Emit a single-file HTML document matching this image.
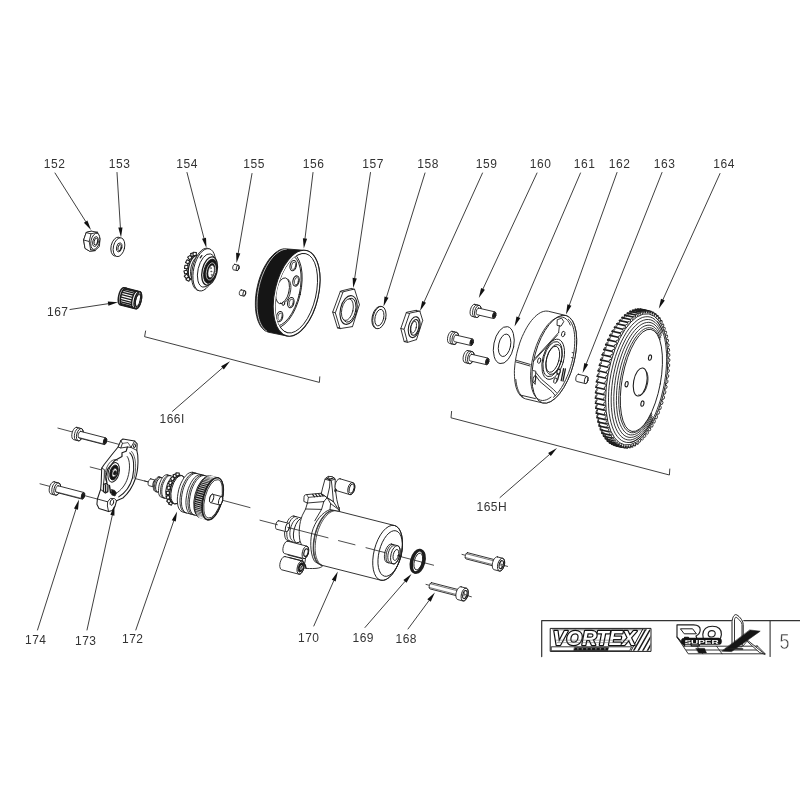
<!DOCTYPE html>
<html><head><meta charset="utf-8"><title>Exploded view 5</title>
<style>
html,body{margin:0;padding:0;background:#fff;}
body{width:800px;height:800px;overflow:hidden;font-family:"Liberation Sans",sans-serif;}
svg{display:block;filter:blur(0.3px);}
svg *{fill:none;stroke:#1e1e1e;stroke-width:0.9;stroke-linecap:round;stroke-linejoin:round;}
svg .w{fill:#fff;}
svg .k{fill:#151515;}
svg .f{fill:#111;stroke:none;}
svg .t text{font-family:"Liberation Sans",sans-serif;font-size:12px;fill:#333;stroke:none;letter-spacing:0.5px;}
svg .l line, svg .l path{stroke-width:0.85;}
svg .l .f{stroke:none;}
</style></head><body>
<svg width="800" height="800" viewBox="0 0 800 800">
<rect x="0" y="0" width="800" height="800" style="fill:#fff;stroke:none"/>
<g class="t">
<text x="43.8" y="167.6">152</text>
<text x="108.8" y="167.6">153</text>
<text x="176.3" y="167.6">154</text>
<text x="243.3" y="167.6">155</text>
<text x="302.8" y="167.6">156</text>
<text x="362.3" y="167.6">157</text>
<text x="417.3" y="167.6">158</text>
<text x="475.8" y="167.6">159</text>
<text x="529.8" y="167.6">160</text>
<text x="573.8" y="167.6">161</text>
<text x="608.8" y="167.6">162</text>
<text x="653.8" y="167.6">163</text>
<text x="713.3" y="167.6">164</text>
<text x="47" y="316">167</text>
<text x="159.5" y="423">166I</text>
<text x="476.5" y="510.5">165H</text>
<text x="25" y="644">174</text>
<text x="75" y="644.5">173</text>
<text x="122" y="643">172</text>
<text x="298" y="641.5">170</text>
<text x="352.5" y="641.5">169</text>
<text x="395.5" y="642.5">168</text>
</g>
<g class="p">
<g id="p152">
<path class="w" d="M91.5 231.2L86.2 232.6L83.6 240L85 248.4L89.6 251.2L95 250.6"/>
<path class="w" d="M91.5 231.2L97.5 232.2L100 238.5L99.4 246.5L95 250.6L89.6 251.2L85 248.4L83.6 240L86.2 232.6Z"/>
<path d="M86.2 232.6L91 233.8L97.5 232.2M91 233.8L89.2 241.5L90.6 249.6M83.6 240L89.2 241.5M90.6 249.6L95 250.6"/>
<ellipse class="w" cx="95.30" cy="241.30" rx="4.30" ry="8.30" transform="rotate(13 95.30 241.30)"/>
<ellipse class="w" cx="95.50" cy="241.50" rx="2.60" ry="5.00" transform="rotate(13 95.50 241.50)"/>
<ellipse cx="95.90" cy="241.60" rx="1.70" ry="3.60" transform="rotate(13 95.90 241.60)"/>
</g>
<g id="p153">
<ellipse class="w" cx="116.70" cy="246.60" rx="5.60" ry="9.60" transform="rotate(13 116.70 246.60)"/>
<ellipse class="w" cx="119.00" cy="247.20" rx="5.60" ry="9.60" transform="rotate(13 119.00 247.20)"/>
<ellipse class="w" cx="119.20" cy="247.40" rx="2.60" ry="4.60" transform="rotate(13 119.20 247.40)"/>
<ellipse cx="119.60" cy="247.60" rx="1.50" ry="3.20" transform="rotate(13 119.60 247.60)"/>
</g>
<g id="p167">
<path class="w" d="M124.0 287.7L139.8 291.7L139.8 291.7 L140.2 291.9 L140.5 292.2 L140.8 292.7 L141.1 293.2 L141.3 293.9 L141.5 294.7 L141.5 295.6 L141.6 296.6 L141.5 297.6 L141.4 298.7 L141.2 299.8 L141.0 300.9 L140.7 302.0 L140.4 303.1 L140.0 304.1 L139.6 305.1 L139.2 305.9 L138.7 306.7 L138.2 307.4 L137.7 307.9 L137.2 308.3 L136.7 308.6 L136.3 308.7 L135.8 308.7L120.0 304.7L120.0 304.7 L119.6 304.5 L119.3 304.2 L119.0 303.7 L118.7 303.2 L118.5 302.5 L118.3 301.7 L118.3 300.8 L118.2 299.8 L118.3 298.8 L118.4 297.7 L118.6 296.6 L118.8 295.5 L119.1 294.4 L119.4 293.3 L119.8 292.3 L120.2 291.3 L120.6 290.5 L121.1 289.7 L121.6 289.0 L122.1 288.5 L122.6 288.1 L123.1 287.8 L123.5 287.7 L124.0 287.7Z" style="stroke-width:1.5"/>
<path d="M122.0 305.2 L121.6 305.0 L121.3 304.7 L121.0 304.2 L120.7 303.7 L120.5 303.0 L120.3 302.2 L120.3 301.3 L120.2 300.3 L120.3 299.3 L120.4 298.2 L120.6 297.1 L120.8 296.0 L121.1 294.9 L121.4 293.8 L121.8 292.8 L122.2 291.8 L122.6 291.0 L123.1 290.2 L123.6 289.5 L124.1 289.0 L124.6 288.6 L125.1 288.3 L125.5 288.2 L126.0 288.2" style="stroke-width:1.7"/>
<path d="M133.4 308.1 L133.0 307.9 L132.7 307.6 L132.4 307.1 L132.1 306.6 L131.9 305.9 L131.7 305.1 L131.7 304.2 L131.6 303.2 L131.7 302.2 L131.8 301.1 L132.0 300.0 L132.2 298.9 L132.5 297.8 L132.8 296.7 L133.2 295.7 L133.6 294.7 L134.0 293.9 L134.5 293.1 L135.0 292.4 L135.5 291.9 L136.0 291.5 L136.5 291.2 L136.9 291.1 L137.4 291.1" style="stroke-width:1.4"/>
<line x1="121.9" y1="304.8" x2="132.3" y2="307.5" style="stroke-width:1.35"/>
<line x1="121.2" y1="303.6" x2="131.6" y2="306.3" style="stroke-width:1.35"/>
<line x1="120.9" y1="301.9" x2="131.3" y2="304.5" style="stroke-width:1.35"/>
<line x1="120.9" y1="299.6" x2="131.3" y2="302.3" style="stroke-width:1.35"/>
<line x1="121.2" y1="297.1" x2="131.6" y2="299.8" style="stroke-width:1.35"/>
<line x1="121.8" y1="294.6" x2="132.2" y2="297.3" style="stroke-width:1.35"/>
<line x1="122.6" y1="292.3" x2="133.0" y2="295.0" style="stroke-width:1.35"/>
<line x1="123.6" y1="290.4" x2="134.0" y2="293.1" style="stroke-width:1.35"/>
<line x1="124.8" y1="289.1" x2="135.2" y2="291.7" style="stroke-width:1.35"/>
<line x1="125.7" y1="288.4" x2="136.1" y2="291.1" style="stroke-width:1.35"/>
<ellipse class="w" cx="137.80" cy="300.20" rx="3.30" ry="8.70" transform="rotate(13 137.80 300.20)" style="stroke-width:1.4"/>
<ellipse cx="137.90" cy="300.20" rx="2.18" ry="6.44" transform="rotate(13 137.90 300.20)" style="stroke-width:1.1"/>
<line x1="140.1" y1="295.0" x2="141.0" y2="293.4" style="stroke-width:0.9"/>
<line x1="140.3" y1="298.0" x2="141.5" y2="297.3" style="stroke-width:0.9"/>
<line x1="139.6" y1="301.8" x2="140.6" y2="302.4" style="stroke-width:0.9"/>
<line x1="138.3" y1="305.0" x2="138.7" y2="306.6" style="stroke-width:0.9"/>
<line x1="136.7" y1="306.5" x2="136.5" y2="308.5" style="stroke-width:0.9"/>
<line x1="135.6" y1="305.7" x2="134.7" y2="307.4" style="stroke-width:0.9"/>
<line x1="135.2" y1="302.9" x2="134.1" y2="303.7" style="stroke-width:0.9"/>
<line x1="135.8" y1="299.2" x2="134.8" y2="298.8" style="stroke-width:0.9"/>
<line x1="137.1" y1="295.8" x2="136.6" y2="294.3" style="stroke-width:0.9"/>
<line x1="138.6" y1="294.0" x2="138.8" y2="292.0" style="stroke-width:0.9"/>
<path d="M135.8 305.0 L135.4 304.5 L135.3 303.6 L135.2 302.4 L135.3 301.1 L135.6 299.7 L136.0 298.3 L136.5 297.0 L137.0 296.0 L137.6 295.3 L138.1 295.0" style="stroke-width:1.1"/>
</g>
<g id="p154">
<ellipse class="w" cx="193.20" cy="267.20" rx="6.00" ry="12.80" transform="rotate(13 193.20 267.20)"/>
<rect class="w" x="186.6" y="277.6" width="3.2" height="3.2" transform="rotate(-62 188.1 279.2)" style="stroke-width:1.1"/>
<rect class="w" x="184.9" y="274.8" width="3.2" height="3.2" transform="rotate(-39 186.4 276.4)" style="stroke-width:1.1"/>
<rect class="w" x="184.3" y="270.5" width="3.2" height="3.2" transform="rotate(-16 185.8 272.1)" style="stroke-width:1.1"/>
<rect class="w" x="184.7" y="265.4" width="3.2" height="3.2" transform="rotate(7 186.2 267.0)" style="stroke-width:1.1"/>
<rect class="w" x="186.1" y="260.2" width="3.2" height="3.2" transform="rotate(30 187.6 261.8)" style="stroke-width:1.1"/>
<rect class="w" x="188.3" y="255.9" width="3.2" height="3.2" transform="rotate(53 189.8 257.5)" style="stroke-width:1.1"/>
<rect class="w" x="191.0" y="253.1" width="3.2" height="3.2" transform="rotate(76 192.5 254.7)" style="stroke-width:1.1"/>
<rect class="w" x="193.2" y="252.3" width="3.2" height="3.2" transform="rotate(95 194.7 253.9)" style="stroke-width:1.1"/>
<path d="M191.3 279.5 L190.4 278.9 L189.6 277.9 L189.0 276.5 L188.5 274.8 L188.3 272.9 L188.3 270.8 L188.5 268.5 L188.9 266.3 L189.6 264.1 L190.3 262.0 L191.3 260.1 L192.3 258.5 L193.4 257.2 L194.6 256.2 L195.8 255.6 L196.9 255.5" style="stroke-width:1.2"/>
<ellipse class="w" cx="197.00" cy="268.20" rx="6.00" ry="12.60" transform="rotate(13 197.00 268.20)"/>
<ellipse class="w" cx="203.00" cy="269.40" rx="10.60" ry="21.60" transform="rotate(13 203.00 269.40)"/>
<ellipse class="w" cx="204.30" cy="269.80" rx="10.60" ry="21.60" transform="rotate(13 204.30 269.80)"/>
<ellipse cx="206.60" cy="270.50" rx="8.60" ry="17.00" transform="rotate(13 206.60 270.50)"/>
<ellipse class="w" cx="209.60" cy="271.00" rx="7.40" ry="14.40" transform="rotate(13 209.60 271.00)" style="stroke-width:1.3"/>
<ellipse class="k" cx="210.30" cy="271.20" rx="6.30" ry="12.40" transform="rotate(13 210.30 271.20)"/>
<ellipse cx="210.90" cy="271.40" rx="4.40" ry="8.80" transform="rotate(13 210.90 271.40)" style="stroke:#fff;stroke-width:0.6"/>
<ellipse class="w" cx="211.20" cy="271.50" rx="3.00" ry="6.40" transform="rotate(13 211.20 271.50)" style="stroke-width:0.5"/>
<circle cx="210.8" cy="268.1" r="0.6" style="fill:#fff;stroke:#222;stroke-width:0.5"/>
<circle cx="211.2" cy="271.5" r="0.6" style="fill:#fff;stroke:#222;stroke-width:0.5"/>
<circle cx="211.6" cy="274.9" r="0.6" style="fill:#fff;stroke:#222;stroke-width:0.5"/>
<path d="M200.2 257.8L201.8 255.6" style="stroke-width:1.3"/>
</g>
<g id="p155">
<path class="w" d="M234.7 264.4L238.3 265.2L238.3 265.2 L238.8 265.5 L239.0 266.2 L239.1 267.1 L239.0 268.2 L238.6 269.2 L238.2 270.0 L237.6 270.5 L237.1 270.6L233.5 269.8L233.5 269.8 L233.0 269.5 L232.8 268.8 L232.7 267.9 L232.8 266.8 L233.2 265.8 L233.6 265.0 L234.2 264.5 L234.7 264.4Z"/>
<ellipse cx="237.70" cy="267.90" rx="1.30" ry="2.80" transform="rotate(13 237.70 267.90)"/>
<path class="w" d="M241.3 289.9L244.9 290.7L244.9 290.7 L245.4 291.0 L245.6 291.7 L245.7 292.6 L245.6 293.7 L245.2 294.7 L244.8 295.5 L244.2 296.0 L243.7 296.1L240.1 295.3L240.1 295.3 L239.6 295.0 L239.4 294.3 L239.3 293.4 L239.4 292.3 L239.8 291.3 L240.2 290.5 L240.8 290.0 L241.3 289.9Z"/>
<ellipse cx="244.30" cy="293.40" rx="1.30" ry="2.80" transform="rotate(13 244.30 293.40)"/>
</g>
<g id="p156">
<path class="k" d="M268.6 332.2 L267.0 331.7 L265.5 331.0 L264.0 329.9 L262.7 328.7 L261.4 327.2 L260.2 325.5 L259.2 323.6 L258.3 321.5 L257.4 319.1 L256.8 316.6 L256.2 314.0 L255.8 311.2 L255.5 308.3 L255.4 305.2 L255.4 302.1 L255.5 298.9 L255.8 295.7 L256.2 292.4 L256.8 289.1 L257.5 285.8 L258.3 282.6 L259.2 279.4 L260.3 276.2 L261.5 273.2 L262.7 270.3 L264.1 267.4 L265.6 264.8 L267.1 262.3 L268.7 259.9 L270.3 257.8 L272.1 255.9 L273.8 254.1 L275.6 252.6 L277.4 251.4 L279.1 250.3 L280.9 249.5 L282.7 249.0 L284.4 248.8 L286.2 248.7 L287.8 249.0L306.5 250.5L306.5 250.5 L308.1 251.0 L309.7 251.8 L311.1 252.8 L312.5 254.1 L313.8 255.6 L315.0 257.4 L316.1 259.4 L317.1 261.6 L317.9 263.9 L318.6 266.5 L319.2 269.2 L319.6 272.1 L319.9 275.1 L320.0 278.2 L320.0 281.4 L319.8 284.7 L319.6 288.0 L319.1 291.4 L318.5 294.7 L317.8 298.1 L317.0 301.4 L316.0 304.7 L315.0 307.9 L313.8 311.1 L312.5 314.1 L311.1 316.9 L309.6 319.7 L308.0 322.3 L306.4 324.6 L304.7 326.8 L302.9 328.8 L301.1 330.6 L299.3 332.2 L297.5 333.5 L295.6 334.5 L293.8 335.3 L292.0 335.8 L290.2 336.1 L288.4 336.1 L286.7 335.9Z"/>
<path d="M266.7 331.1 L265.5 330.2 L264.2 329.1 L263.1 327.7 L262.0 326.2 L261.1 324.5 L260.2 322.7 L259.4 320.7 L258.7 318.5 L258.2 316.2 L257.7 313.8 L257.4 311.2 L257.1 308.6 L257.0 305.9 L257.0 303.1 L257.1 300.2 L257.3 297.3 L257.6 294.4 L258.1 291.4 L258.6 288.4 L259.3 285.5 L260.0 282.6 L260.9 279.7 L261.8 276.9 L262.9 274.1 L264.0 271.5 L265.2 268.9 L266.5 266.4 L267.8 264.1 L269.2 261.9 L270.7 259.8 L272.2 257.9 L273.7 256.2 L275.3 254.7 L276.9 253.3 L278.5 252.1 L280.1 251.1 L281.7 250.3 L283.3 249.7 L284.9 249.3 L286.4 249.1" style="stroke:#fff;stroke-width:0.7"/>
<ellipse class="w" cx="296.60" cy="293.20" rx="21.80" ry="43.80" transform="rotate(13 296.60 293.20)" style="stroke-width:1.1"/>
<ellipse class="w" cx="296.60" cy="293.20" rx="19.40" ry="40.60" transform="rotate(13 296.60 293.20)" style="stroke-width:0.9"/>
<clipPath id="c156"><ellipse cx="296.6" cy="293.2" rx="19.400000000000002" ry="40.599999999999994" transform="rotate(13 296.6 293.2)"/></clipPath>
<g clip-path="url(#c156)">
<path class="k" d="M287.5 332.8 L286.0 332.3 L284.6 331.6 L283.3 330.6 L282.1 329.5 L280.9 328.1 L279.9 326.5 L278.9 324.6 L278.1 322.6 L277.4 320.4 L276.8 318.1 L276.3 315.6 L275.9 312.9 L275.7 310.1 L275.6 307.3 L275.6 304.3 L275.8 301.3 L276.1 298.2 L276.5 295.1 L277.0 292.0 L277.7 288.8 L278.5 285.7 L279.4 282.7 L280.4 279.7 L281.4 276.8 L282.6 274.0 L283.9 271.4 L285.3 268.8 L286.7 266.4 L288.2 264.2 L289.7 262.1 L291.3 260.3 L292.9 258.6 L294.5 257.2 L296.2 256.0 L297.8 255.0 L299.4 254.2 L301.1 253.7 L302.7 253.4 L304.2 253.4 L305.7 253.6L290.8 252.4 L289.4 252.2 L287.9 252.2 L286.4 252.5 L284.8 253.0 L283.2 253.7 L281.6 254.6 L280.1 255.8 L278.5 257.2 L277.0 258.7 L275.5 260.5 L274.0 262.5 L272.6 264.6 L271.2 266.9 L269.9 269.3 L268.7 271.9 L267.6 274.5 L266.5 277.3 L265.6 280.2 L264.7 283.1 L264.0 286.0 L263.3 289.0 L262.8 292.0 L262.4 295.0 L262.2 297.9 L262.0 300.8 L262.0 303.6 L262.1 306.4 L262.3 309.0 L262.7 311.6 L263.1 314.0 L263.7 316.2 L264.4 318.3 L265.2 320.2 L266.1 322.0 L267.1 323.5 L268.2 324.9 L269.4 326.0 L270.6 326.9 L272.0 327.6 L273.4 328.0Z"/>
<ellipse class="w" cx="282.10" cy="290.20" rx="18.60" ry="38.80" transform="rotate(13 282.10 290.20)"/>
<ellipse cx="282.70" cy="290.40" rx="17.00" ry="36.40" transform="rotate(13 282.70 290.40)"/>
<ellipse class="w" cx="282.60" cy="290.80" rx="6.40" ry="13.20" transform="rotate(13 282.60 290.80)"/>
<path d="M288.0 279.4 L289.0 280.3 L289.8 281.6 L290.4 283.3 L290.8 285.3 L290.9 287.5 L290.7 289.9 L290.3 292.3 L289.7 294.7 L288.8 296.9 L287.8 299.0 L286.6 300.7 L285.3 302.1 L284.0 303.0 L282.7 303.5 L281.5 303.5 L280.4 303.0"/>
<ellipse class="w" cx="293.20" cy="265.60" rx="3.10" ry="5.20" transform="rotate(13 293.20 265.60)" style="stroke-width:1.1"/>
<ellipse cx="293.60" cy="265.80" rx="2.00" ry="3.80" transform="rotate(13 293.60 265.80)" style="stroke-width:0.7"/>
<ellipse class="w" cx="296.00" cy="281.00" rx="3.10" ry="5.20" transform="rotate(13 296.00 281.00)" style="stroke-width:1.1"/>
<ellipse cx="296.40" cy="281.20" rx="2.00" ry="3.80" transform="rotate(13 296.40 281.20)" style="stroke-width:0.7"/>
<ellipse class="w" cx="290.80" cy="302.60" rx="3.10" ry="5.20" transform="rotate(13 290.80 302.60)" style="stroke-width:1.1"/>
<ellipse cx="291.20" cy="302.80" rx="2.00" ry="3.80" transform="rotate(13 291.20 302.80)" style="stroke-width:0.7"/>
<ellipse class="w" cx="279.60" cy="316.60" rx="3.10" ry="5.20" transform="rotate(13 279.60 316.60)" style="stroke-width:1.1"/>
<ellipse cx="280.00" cy="316.80" rx="2.00" ry="3.80" transform="rotate(13 280.00 316.80)" style="stroke-width:0.7"/>
<ellipse class="w" cx="283.40" cy="303.60" rx="1.20" ry="1.90" transform="rotate(13 283.40 303.60)"/>
</g>
</g>
<g id="p157">
<path class="w" d="M352.0 288.7 L356.8 303.9 L349.9 325.9 L337.5 327.9 L332.7 312.1 L340.3 291.5Z"/>
<line x1="354.6" y1="289.4" x2="352.0" y2="288.7"/>
<line x1="359.4" y1="304.6" x2="356.8" y2="303.9"/>
<line x1="352.5" y1="326.6" x2="349.9" y2="325.9"/>
<line x1="340.1" y1="328.6" x2="337.5" y2="327.9"/>
<line x1="335.3" y1="312.8" x2="332.7" y2="312.1"/>
<line x1="342.9" y1="292.2" x2="340.3" y2="291.5"/>
<path class="w" d="M354.6 289.4 L359.4 304.6 L352.5 326.6 L340.1 328.6 L335.3 312.8 L342.9 292.2Z"/>
<ellipse class="w" cx="348.60" cy="310.00" rx="8.20" ry="14.60" transform="rotate(13 348.60 310.00)" style="stroke-width:1.1"/>
<ellipse class="w" cx="349.20" cy="310.20" rx="6.40" ry="12.20" transform="rotate(13 349.20 310.20)" style="stroke-width:0.9"/>
<ellipse class="w" cx="347.40" cy="309.70" rx="5.60" ry="11.00" transform="rotate(13 347.40 309.70)" style="stroke-width:0.8"/>
</g>
<g id="p158">
<ellipse class="w" cx="378.60" cy="317.40" rx="6.40" ry="11.40" transform="rotate(13 378.60 317.40)"/>
<ellipse class="w" cx="379.40" cy="317.60" rx="6.40" ry="11.40" transform="rotate(13 379.40 317.60)"/>
<ellipse class="w" cx="379.40" cy="317.60" rx="4.30" ry="8.40" transform="rotate(13 379.40 317.60)"/>
</g>
<g id="p159">
<path class="w" d="M416.6 310.6 L419.4 319.6 L413.2 338.8 L404.2 341.6 L400.8 328.5 L406.3 312.7Z"/>
<line x1="419.9" y1="311.4" x2="416.6" y2="310.6"/>
<line x1="422.7" y1="320.4" x2="419.4" y2="319.6"/>
<line x1="416.5" y1="339.6" x2="413.2" y2="338.8"/>
<line x1="407.5" y1="342.4" x2="404.2" y2="341.6"/>
<line x1="404.1" y1="329.3" x2="400.8" y2="328.5"/>
<line x1="409.6" y1="313.5" x2="406.3" y2="312.7"/>
<path class="w" d="M419.9 311.4 L422.7 320.4 L416.5 339.6 L407.5 342.4 L404.1 329.3 L409.6 313.5Z"/>
<ellipse class="w" cx="414.20" cy="327.20" rx="5.60" ry="10.60" transform="rotate(13 414.20 327.20)" style="stroke-width:1.1"/>
<ellipse class="w" cx="414.70" cy="327.40" rx="4.00" ry="8.00" transform="rotate(13 414.70 327.40)" style="stroke-width:1.1"/>
<ellipse class="w" cx="413.70" cy="327.10" rx="2.60" ry="6.00" transform="rotate(13 413.70 327.10)" style="stroke-width:0.8"/>
</g>
<g id="p160">
<path class="w" d="M474.8 304.4L479.3 305.4L479.3 305.4 L480.1 305.9 L480.8 307.0 L481.1 308.4 L481.2 310.2 L480.9 312.1 L480.3 314.0 L479.5 315.5 L478.5 316.7 L477.5 317.4 L476.5 317.5L472.0 316.4L472.0 316.4 L471.1 315.9 L470.5 314.9 L470.1 313.4 L470.1 311.6 L470.4 309.7 L471.0 307.9 L471.8 306.3 L472.8 305.1 L473.8 304.4 L474.8 304.4Z"/>
<ellipse cx="477.88" cy="311.43" rx="3.10" ry="6.20" transform="rotate(13 477.88 311.43)"/>
<path d="M474.5 317.0 L473.6 316.5 L473.0 315.4 L472.6 314.0 L472.6 312.2 L472.8 310.3 L473.4 308.4 L474.2 306.9 L475.2 305.7 L476.3 305.0 L477.3 304.9"/>
<path class="w" d="M478.6 308.1L495.0 311.9L495.0 311.9 L495.5 312.3 L495.8 313.1 L495.9 314.3 L495.7 315.6 L495.3 316.8 L494.8 317.8 L494.1 318.4 L493.5 318.5L477.1 314.7L477.1 314.7 L476.6 314.4 L476.3 313.5 L476.2 312.4 L476.4 311.1 L476.8 309.8 L477.4 308.8 L478.0 308.2 L478.6 308.1Z"/>
<ellipse cx="494.25" cy="315.21" rx="1.53" ry="3.40" transform="rotate(13 494.25 315.21)"/>
<ellipse class="k" cx="494.15" cy="315.21" rx="1.16" ry="2.55" transform="rotate(13 494.15 315.21)"/>
<path class="w" d="M452.2 331.4L456.7 332.4L456.7 332.4 L457.5 332.9 L458.2 334.0 L458.5 335.4 L458.6 337.2 L458.3 339.1 L457.7 341.0 L456.9 342.5 L455.9 343.7 L454.9 344.4 L453.9 344.5L449.4 343.4L449.4 343.4 L448.5 342.9 L447.9 341.9 L447.5 340.4 L447.5 338.6 L447.8 336.7 L448.4 334.9 L449.2 333.3 L450.2 332.1 L451.2 331.4 L452.2 331.4Z"/>
<ellipse cx="455.28" cy="338.43" rx="3.10" ry="6.20" transform="rotate(13 455.28 338.43)"/>
<path d="M451.9 344.0 L451.0 343.5 L450.4 342.4 L450.0 341.0 L450.0 339.2 L450.2 337.3 L450.8 335.4 L451.6 333.9 L452.6 332.7 L453.7 332.0 L454.7 331.9"/>
<path class="w" d="M456.0 335.1L472.4 338.9L472.4 338.9 L472.9 339.3 L473.2 340.1 L473.3 341.3 L473.1 342.6 L472.7 343.8 L472.2 344.8 L471.5 345.4 L470.9 345.5L454.5 341.7L454.5 341.7 L454.0 341.4 L453.7 340.5 L453.6 339.4 L453.8 338.1 L454.2 336.8 L454.8 335.8 L455.4 335.2 L456.0 335.1Z"/>
<ellipse cx="471.65" cy="342.21" rx="1.53" ry="3.40" transform="rotate(13 471.65 342.21)"/>
<ellipse class="k" cx="471.55" cy="342.21" rx="1.16" ry="2.55" transform="rotate(13 471.55 342.21)"/>
<path class="w" d="M467.8 350.6L472.3 351.6L472.3 351.6 L473.1 352.1 L473.8 353.2 L474.1 354.6 L474.2 356.4 L473.9 358.3 L473.3 360.2 L472.5 361.7 L471.5 362.9 L470.5 363.6 L469.5 363.7L465.0 362.6L465.0 362.6 L464.1 362.1 L463.5 361.1 L463.1 359.6 L463.1 357.8 L463.4 355.9 L464.0 354.1 L464.8 352.5 L465.8 351.3 L466.8 350.6 L467.8 350.6Z"/>
<ellipse cx="470.88" cy="357.63" rx="3.10" ry="6.20" transform="rotate(13 470.88 357.63)"/>
<path d="M467.5 363.2 L466.6 362.7 L466.0 361.6 L465.6 360.2 L465.6 358.4 L465.8 356.5 L466.4 354.6 L467.2 353.1 L468.2 351.9 L469.3 351.2 L470.3 351.1"/>
<path class="w" d="M471.6 354.3L488.0 358.1L488.0 358.1 L488.5 358.5 L488.8 359.3 L488.9 360.5 L488.7 361.8 L488.3 363.0 L487.8 364.0 L487.1 364.6 L486.5 364.7L470.1 360.9L470.1 360.9 L469.6 360.6 L469.3 359.7 L469.2 358.6 L469.4 357.3 L469.8 356.0 L470.4 355.0 L471.0 354.4 L471.6 354.3Z"/>
<ellipse cx="487.25" cy="361.41" rx="1.53" ry="3.40" transform="rotate(13 487.25 361.41)"/>
<ellipse class="k" cx="487.15" cy="361.41" rx="1.16" ry="2.55" transform="rotate(13 487.15 361.41)"/>
</g>
<g id="p161">
<ellipse class="w" cx="503.80" cy="345.10" rx="10.00" ry="18.80" transform="rotate(11.5 503.80 345.10)"/>
<ellipse class="w" cx="504.60" cy="345.30" rx="6.00" ry="11.40" transform="rotate(11.5 504.60 345.30)"/>
</g>
<g id="p162">
<path class="w" d="M525.1 398.7 L523.6 398.1 L522.3 397.3 L521.0 396.3 L519.8 394.9 L518.7 393.4 L517.7 391.6 L516.8 389.5 L516.1 387.3 L515.5 384.9 L515.0 382.2 L514.7 379.5 L514.5 376.5 L514.4 373.4 L514.4 370.3 L514.7 367.0 L515.0 363.6 L515.5 360.2 L516.1 356.8 L516.8 353.3 L517.7 349.9 L518.7 346.5 L519.7 343.1 L520.9 339.8 L522.2 336.6 L523.6 333.6 L525.1 330.6 L526.6 327.8 L528.2 325.2 L529.9 322.7 L531.5 320.5 L533.3 318.5 L535.0 316.7 L536.8 315.1 L538.5 313.8 L540.3 312.7 L542.0 311.9 L543.7 311.4 L545.4 311.1 L547.0 311.1 L548.5 311.3L566.0 315.5L566.0 315.5 L567.5 316.1 L568.8 316.9 L570.1 317.9 L571.3 319.3 L572.4 320.8 L573.4 322.6 L574.3 324.7 L575.0 326.9 L575.6 329.3 L576.1 332.0 L576.4 334.7 L576.6 337.7 L576.7 340.8 L576.7 343.9 L576.4 347.2 L576.1 350.6 L575.6 354.0 L575.0 357.4 L574.3 360.9 L573.4 364.3 L572.4 367.7 L571.4 371.1 L570.2 374.4 L568.9 377.6 L567.5 380.6 L566.0 383.6 L564.5 386.4 L562.9 389.0 L561.2 391.5 L559.6 393.7 L557.8 395.7 L556.1 397.5 L554.3 399.1 L552.6 400.4 L550.8 401.5 L549.1 402.3 L547.4 402.8 L545.7 403.1 L544.1 403.1 L542.6 402.9Z"/>
<path d="M516.4 360.4L530.2 364.4M516.2 362L530 366"/>
<path d="M521 395.2L535.4 398.6"/>
<path d="M523.2 397.4 L522.0 396.4 L521.0 395.2 L520.0 393.9 L519.1 392.3 L518.3 390.5 L517.6 388.6 L517.0 386.5 L516.5 384.3 L516.1 381.9 L515.8 379.4"/>
<ellipse class="w" cx="554.30" cy="359.20" rx="19.80" ry="45.20" transform="rotate(15 554.30 359.20)"/>
<path d="M551.0 397.1 L548.8 398.6 L546.7 399.7 L544.5 400.3 L542.5 400.5 L540.6 400.2 L538.8 399.5 L537.1 398.3 L535.6 396.7 L534.2 394.7 L533.1 392.3 L532.1 389.5 L531.4 386.3 L530.9 382.9 L530.6 379.2 L530.6 375.3 L530.8 371.2 L531.2 367.0 L531.8 362.6 L532.7 358.3 L533.7 353.9 L535.0 349.6 L536.4 345.4 L538.1 341.3 L539.8 337.4 L541.7 333.8 L543.7 330.4 L545.8 327.3 L547.9 324.6 L550.1 322.3 L552.4 320.3 L554.6 318.8 L556.7 317.7 L558.9 317.1 L560.9 316.9 L562.8 317.2 L564.6 317.9 L566.3 319.1 L567.8 320.7 L569.2 322.7 L570.3 325.1"/>
<path d="M568.4 319.3 L569.5 320.4 L570.6 321.7 L571.5 323.3 L572.4 325.1 L573.1 327.2 L573.7 329.4 L574.2 331.9 L574.5 334.5 L574.7 337.3 L574.8 340.3 L574.7 343.4 L574.5 346.5 L574.2 349.8 L573.8 353.1 L573.2 356.5 L572.5 359.9 L571.6 363.3 L570.7 366.6 L569.6 369.9 L568.5 373.2 L567.2 376.3 L565.9 379.3 L564.5 382.2 L563.0 385.0 L561.5 387.5 L559.9 389.9 L558.3 392.1 L556.7 394.1 L555.1 395.8 L553.4 397.3"/>
<ellipse class="w" cx="553.20" cy="359.30" rx="10.40" ry="20.60" transform="rotate(15 553.20 359.30)"/>
<ellipse cx="552.60" cy="359.10" rx="8.80" ry="18.00" transform="rotate(15 552.60 359.10)"/>
<ellipse cx="554.00" cy="359.50" rx="7.40" ry="15.40" transform="rotate(15 554.00 359.50)"/>
<ellipse cx="552.80" cy="359.30" rx="6.20" ry="13.40" transform="rotate(15 552.80 359.30)"/>
<path class="w" d="M557.6 319.6L561.6 318.2L563.8 321.6L561 326.2L557.4 325.4Z"/>
<path d="M559.4 325.8L558.6 332.6M558.6 332.6L535.4 358M534.2 360.4L557.6 335"/>
<path d="M536 372.6L541.6 379.4L553.6 389.6L556.4 392.6M535.6 375.6L540 381.6L552 391.6L555.2 395.6"/>
<path d="M533.2 370.6L535.8 371.2L535.2 384.4L533 382"/>
<ellipse class="w" cx="563.20" cy="334.00" rx="1.60" ry="2.80" transform="rotate(15 563.20 334.00)"/>
<ellipse class="w" cx="539.20" cy="360.60" rx="1.50" ry="2.80" transform="rotate(15 539.20 360.60)"/>
<ellipse class="w" cx="555.40" cy="380.60" rx="1.60" ry="2.80" transform="rotate(15 555.40 380.60)"/>
<ellipse cx="534.40" cy="379.00" rx="1.30" ry="3.40" transform="rotate(15 534.40 379.00)"/>
<path d="M563.6 368.6L561.2 380.6M565.4 369L563 381M559.6 372.4L557.6 379.8" style="stroke-width:1.3"/>
<ellipse class="w" cx="558.60" cy="371.60" rx="1.60" ry="2.60" transform="rotate(15 558.60 371.60)" style="stroke-width:1.2"/>
<path d="M572.2 352.6L573.6 353M571.6 357.6L573 358"/>
</g>
<g id="p163">
<path class="w" d="M578.4 374.3L587.0 376.4L587.0 376.4 L587.6 376.8 L588.0 377.7 L588.0 379.0 L587.9 380.4 L587.4 381.7 L586.8 382.8 L586.1 383.5 L585.4 383.6L576.8 381.5L576.8 381.5 L576.2 381.1 L575.8 380.2 L575.8 378.9 L575.9 377.5 L576.4 376.2 L577.0 375.1 L577.7 374.4 L578.4 374.3Z"/>
<ellipse cx="586.20" cy="380.00" rx="1.70" ry="3.70" transform="rotate(13 586.20 380.00)"/>
</g>
<g id="p164">
<path class="w" d="M657.5 382.9 L658.7 384.4 L658.3 386.3 L656.7 387.2 L656.4 388.2 L657.5 389.8 L657.0 391.8 L655.4 392.4 L655.2 393.5 L656.2 395.2 L655.6 397.1 L654.0 397.6 L653.7 398.6 L654.6 400.5 L654.0 402.3 L652.5 402.6 L652.1 403.6 L652.9 405.6 L652.3 407.4 L650.7 407.5 L650.4 408.4 L651.1 410.5 L650.4 412.2 L648.9 412.2 L648.5 413.1 L649.1 415.2 L648.3 416.9 L646.8 416.6 L646.4 417.5 L646.9 419.7 L646.1 421.3 L644.7 420.8 L644.3 421.6 L644.7 423.9 L643.8 425.4 L642.5 424.7 L642.0 425.5 L642.3 427.8 L641.4 429.1 L640.2 428.3 L639.7 429.0 L639.9 431.4 L638.9 432.6 L637.8 431.6 L637.3 432.2 L637.3 434.6 L636.4 435.7 L635.3 434.6 L634.8 435.1 L634.7 437.5 L633.8 438.4 L632.8 437.1 L632.3 437.6 L632.1 439.9 L631.2 440.7 L630.3 439.3 L629.8 439.7 L629.5 442.0 L628.5 442.6 L627.7 441.1 L627.2 441.4 L626.8 443.6 L625.8 444.1 L625.2 442.4 L624.7 442.7 L624.2 444.8 L623.2 445.2 L622.7 443.4 L622.2 443.5 L621.5 445.6 L620.6 445.8 L620.2 443.9 L619.7 443.9 L619.0 446.0 L618.0 446.0 L617.8 444.0 L617.3 443.9 L616.4 445.8 L615.6 445.7 L615.4 443.6 L615.0 443.5 L614.0 445.3 L613.2 445.0 L613.1 442.8 L612.7 442.6 L611.7 444.3 L610.8 443.8 L611.0 441.6 L610.5 441.4 L609.4 442.9 L608.7 442.3 L608.9 440.0 L608.5 439.7 L607.3 441.0 L606.6 440.3 L607.0 438.0 L606.6 437.6 L605.3 438.8 L604.7 437.9 L605.2 435.6 L604.8 435.1 L603.5 436.1 L602.9 435.1 L603.5 432.8 L603.2 432.2 L601.9 433.1 L601.3 431.9 L602.0 429.6 L601.8 429.0 L600.4 429.7 L599.9 428.4 L600.7 426.2 L600.5 425.4 L599.1 425.9 L598.6 424.5 L599.6 422.4 L599.4 421.6 L597.9 421.9 L597.6 420.4 L598.6 418.3 L598.5 417.4 L597.0 417.5 L596.7 415.9 L597.9 413.9 L597.8 413.0 L596.3 412.9 L596.1 411.2 L597.3 409.3 L597.2 408.4 L595.8 408.1 L595.6 406.3 L597.0 404.5 L596.9 403.5 L595.5 403.1 L595.4 401.2 L596.8 399.5 L596.8 398.5 L595.4 397.9 L595.4 396.0 L596.9 394.4 L596.9 393.4 L595.5 392.6 L595.6 390.6 L597.1 389.2 L597.2 388.1 L595.9 387.1 L596.0 385.2 L597.6 383.9 L597.7 382.8 L596.4 381.7 L596.7 379.7 L598.2 378.5 L598.4 377.5 L597.2 376.1 L597.5 374.2 L599.1 373.2 L599.3 372.1 L598.1 370.6 L598.5 368.7 L600.1 367.8 L600.4 366.8 L599.3 365.2 L599.8 363.2 L601.4 362.6 L601.6 361.5 L600.6 359.8 L601.2 357.9 L602.8 357.4 L603.1 356.4 L602.2 354.5 L602.8 352.7 L604.3 352.4 L604.7 351.4 L603.9 349.4 L604.5 347.6 L606.1 347.5 L606.4 346.6 L605.7 344.5 L606.4 342.8 L607.9 342.8 L608.3 341.9 L607.7 339.8 L608.5 338.1 L610.0 338.4 L610.4 337.5 L609.9 335.3 L610.7 333.7 L612.1 334.2 L612.5 333.4 L612.1 331.1 L613.0 329.6 L614.3 330.3 L614.8 329.5 L614.5 327.2 L615.4 325.9 L616.6 326.7 L617.1 326.0 L616.9 323.6 L617.9 322.4 L619.0 323.4 L619.5 322.8 L619.5 320.4 L620.4 319.3 L621.5 320.4 L622.0 319.9 L622.1 317.5 L623.0 316.6 L624.0 317.9 L624.5 317.4 L624.7 315.1 L625.6 314.3 L626.5 315.7 L627.0 315.3 L627.3 313.0 L628.3 312.4 L629.1 313.9 L629.6 313.6 L630.0 311.4 L631.0 310.9 L631.6 312.6 L632.1 312.3 L632.6 310.2 L633.6 309.8 L634.1 311.6 L634.6 311.5 L635.3 309.4 L636.2 309.2 L636.6 311.1 L637.1 311.1 L637.8 309.0 L638.8 309.0 L639.0 311.0 L639.5 311.1 L640.4 309.2 L641.2 309.3 L641.4 311.4 L641.8 311.5 L642.8 309.7 L643.6 310.0 L643.7 312.2 L644.1 312.4 L645.1 310.7 L646.0 311.2 L645.8 313.4 L646.3 313.6 L647.4 312.1 L648.1 312.7 L647.9 315.0 L648.3 315.3 L649.5 314.0 L650.2 314.7 L649.8 317.0 L650.2 317.4 L651.5 316.2 L652.1 317.1 L651.6 319.4 L652.0 319.9 L653.3 318.9 L653.9 319.9 L653.3 322.2 L653.6 322.8 L654.9 321.9 L655.5 323.1 L654.8 325.4 L655.0 326.0 L656.4 325.3 L656.9 326.6 L656.1 328.8 L656.3 329.6 L657.7 329.1 L658.2 330.5 L657.2 332.6 L657.4 333.4 L658.9 333.1 L659.2 334.6 L658.2 336.7 L658.3 337.6 L659.8 337.5 L660.1 339.1 L658.9 341.1 L659.0 342.0 L660.5 342.1 L660.7 343.8 L659.5 345.7 L659.6 346.6 L661.0 346.9 L661.2 348.7 L659.8 350.5 L659.9 351.5 L661.3 351.9 L661.4 353.8 L660.0 355.5 L660.0 356.5 L661.4 357.1 L661.4 359.0 L659.9 360.6 L659.9 361.6 L661.3 362.4 L661.2 364.4 L659.7 365.8 L659.6 366.9 L660.9 367.9 L660.8 369.8 L659.2 371.1 L659.1 372.2 L660.4 373.3 L660.1 375.3 L658.6 376.5 L658.4 377.5 L659.6 378.9 L659.3 380.8 L657.7 381.8Z" style="stroke-width:0.8"/>
<path d="M629.5 441.9L637.9 443.8" style="stroke-width:1.6"/>
<path d="M629.5 441.9L628.0 440.5" style="stroke-width:0.9"/>
<path d="M626.9 443.6L635.3 445.5" style="stroke-width:1.6"/>
<path d="M626.9 443.6L625.5 441.9" style="stroke-width:0.9"/>
<path d="M624.2 444.8L632.6 446.7" style="stroke-width:1.6"/>
<path d="M624.2 444.8L623.0 442.9" style="stroke-width:0.9"/>
<path d="M621.6 445.6L630.0 447.5" style="stroke-width:1.6"/>
<path d="M621.6 445.6L620.5 443.4" style="stroke-width:0.9"/>
<path d="M619.0 446.0L627.4 447.9" style="stroke-width:1.6"/>
<path d="M619.0 446.0L618.1 443.6" style="stroke-width:0.9"/>
<path d="M616.5 445.9L624.9 447.8" style="stroke-width:1.6"/>
<path d="M616.5 445.9L615.8 443.3" style="stroke-width:0.9"/>
<path d="M614.1 445.3L622.5 447.2" style="stroke-width:1.6"/>
<path d="M614.1 445.3L613.5 442.6" style="stroke-width:0.9"/>
<path d="M611.7 444.3L620.1 446.2" style="stroke-width:1.6"/>
<path d="M611.7 444.3L611.4 441.4" style="stroke-width:0.9"/>
<path d="M609.5 442.9L617.9 444.8" style="stroke-width:1.6"/>
<path d="M609.5 442.9L609.3 439.9" style="stroke-width:0.9"/>
<path d="M607.4 441.1L615.8 443.0" style="stroke-width:1.6"/>
<path d="M607.4 441.1L607.4 437.9" style="stroke-width:0.9"/>
<path d="M605.4 438.8L613.8 440.7" style="stroke-width:1.6"/>
<path d="M605.4 438.8L605.6 435.6" style="stroke-width:0.9"/>
<path d="M603.6 436.2L612.0 438.1" style="stroke-width:1.6"/>
<path d="M603.6 436.2L604.0 432.9" style="stroke-width:0.9"/>
<path d="M601.9 433.2L610.3 435.1" style="stroke-width:1.6"/>
<path d="M601.9 433.2L602.5 429.8" style="stroke-width:0.9"/>
<path d="M600.4 429.8L608.8 431.7" style="stroke-width:1.6"/>
<path d="M600.4 429.8L601.2 426.4" style="stroke-width:0.9"/>
<path d="M599.1 426.0L607.5 427.9" style="stroke-width:1.6"/>
<path d="M599.1 426.0L600.0 422.6" style="stroke-width:0.9"/>
<path d="M598.0 422.0L606.4 423.9" style="stroke-width:1.6"/>
<path d="M598.0 422.0L599.1 418.6" style="stroke-width:0.9"/>
<path d="M597.0 417.7L605.4 419.6" style="stroke-width:1.6"/>
<path d="M597.0 417.7L598.3 414.3" style="stroke-width:0.9"/>
<path d="M596.3 413.1L604.7 415.0" style="stroke-width:1.6"/>
<path d="M596.3 413.1L597.8 409.7" style="stroke-width:0.9"/>
<path d="M595.8 408.2L604.2 410.1" style="stroke-width:1.6"/>
<path d="M595.8 408.2L597.4 405.0" style="stroke-width:0.9"/>
<path d="M595.5 403.2L603.9 405.1" style="stroke-width:1.6"/>
<path d="M595.5 403.2L597.2 400.1" style="stroke-width:0.9"/>
<path d="M595.4 398.0L603.8 399.9" style="stroke-width:1.6"/>
<path d="M595.4 398.0L597.2 395.0" style="stroke-width:0.9"/>
<path d="M595.5 392.7L603.9 394.6" style="stroke-width:1.6"/>
<path d="M595.5 392.7L597.5 389.8" style="stroke-width:0.9"/>
<path d="M595.9 387.3L604.3 389.2" style="stroke-width:1.6"/>
<path d="M595.9 387.3L597.9 384.6" style="stroke-width:0.9"/>
<path d="M596.4 381.8L604.8 383.7" style="stroke-width:1.6"/>
<path d="M596.4 381.8L598.5 379.2" style="stroke-width:0.9"/>
<path d="M597.2 376.3L605.6 378.2" style="stroke-width:1.6"/>
<path d="M597.2 376.3L599.4 373.9" style="stroke-width:0.9"/>
<path d="M598.1 370.8L606.5 372.7" style="stroke-width:1.6"/>
<path d="M598.1 370.8L600.4 368.6" style="stroke-width:0.9"/>
<path d="M599.3 365.3L607.7 367.2" style="stroke-width:1.6"/>
<path d="M599.3 365.3L601.6 363.4" style="stroke-width:0.9"/>
<path d="M600.6 359.9L609.0 361.8" style="stroke-width:1.6"/>
<path d="M600.6 359.9L603.0 358.2" style="stroke-width:0.9"/>
<path d="M602.1 354.7L610.5 356.6" style="stroke-width:1.6"/>
<path d="M602.1 354.7L604.5 353.2" style="stroke-width:0.9"/>
<path d="M603.8 349.5L612.2 351.4" style="stroke-width:1.6"/>
<path d="M603.8 349.5L606.2 348.3" style="stroke-width:0.9"/>
<path d="M605.7 344.6L614.1 346.5" style="stroke-width:1.6"/>
<path d="M605.7 344.6L608.0 343.7" style="stroke-width:0.9"/>
<path d="M607.7 339.9L616.1 341.8" style="stroke-width:1.6"/>
<path d="M607.7 339.9L610.0 339.2" style="stroke-width:0.9"/>
<path d="M609.8 335.4L618.2 337.3" style="stroke-width:1.6"/>
<path d="M609.8 335.4L612.1 335.0" style="stroke-width:0.9"/>
<path d="M612.1 331.2L620.5 333.1" style="stroke-width:1.6"/>
<path d="M612.1 331.2L614.3 331.1" style="stroke-width:0.9"/>
<path d="M614.4 327.3L622.8 329.2" style="stroke-width:1.6"/>
<path d="M614.4 327.3L616.5 327.4" style="stroke-width:0.9"/>
<path d="M616.9 323.7L625.3 325.6" style="stroke-width:1.6"/>
<path d="M616.9 323.7L618.9 324.1" style="stroke-width:0.9"/>
<path d="M619.4 320.5L627.8 322.4" style="stroke-width:1.6"/>
<path d="M619.4 320.5L621.3 321.2" style="stroke-width:0.9"/>
<path d="M622.0 317.6L630.4 319.5" style="stroke-width:1.6"/>
<path d="M622.0 317.6L623.8 318.6" style="stroke-width:0.9"/>
<path d="M624.6 315.1L633.0 317.0" style="stroke-width:1.6"/>
<path d="M624.6 315.1L626.3 316.3" style="stroke-width:0.9"/>
<path d="M627.3 313.1L635.7 315.0" style="stroke-width:1.6"/>
<path d="M627.3 313.1L628.8 314.5" style="stroke-width:0.9"/>
<path d="M629.9 311.4L638.3 313.3" style="stroke-width:1.6"/>
<path d="M629.9 311.4L631.3 313.1" style="stroke-width:0.9"/>
<path d="M632.6 310.2L641.0 312.1" style="stroke-width:1.6"/>
<path d="M632.6 310.2L633.8 312.1" style="stroke-width:0.9"/>
<path d="M635.2 309.4L643.6 311.3" style="stroke-width:1.6"/>
<path d="M635.2 309.4L636.3 311.6" style="stroke-width:0.9"/>
<path d="M637.8 309.0L646.2 310.9" style="stroke-width:1.6"/>
<path d="M637.8 309.0L638.7 311.4" style="stroke-width:0.9"/>
<path d="M640.3 309.1L648.7 311.0" style="stroke-width:1.6"/>
<path d="M640.3 309.1L641.0 311.7" style="stroke-width:0.9"/>
<path d="M642.7 309.7L651.1 311.6" style="stroke-width:1.6"/>
<path d="M642.7 309.7L643.3 312.4" style="stroke-width:0.9"/>
<path d="M645.1 310.7L653.5 312.6" style="stroke-width:1.6"/>
<path d="M645.1 310.7L645.4 313.6" style="stroke-width:0.9"/>
<path d="M647.3 312.1L655.7 314.0" style="stroke-width:1.6"/>
<path d="M647.3 312.1L647.5 315.1" style="stroke-width:0.9"/>
<path d="M649.4 313.9L657.8 315.8" style="stroke-width:1.6"/>
<path d="M649.4 313.9L649.4 317.1" style="stroke-width:0.9"/>
<path d="M651.4 316.2L659.8 318.1" style="stroke-width:1.6"/>
<path d="M651.4 316.2L651.2 319.4" style="stroke-width:0.9"/>
<path d="M653.2 318.8L661.6 320.7" style="stroke-width:1.6"/>
<path d="M653.2 318.8L652.8 322.1" style="stroke-width:0.9"/>
<path class="w" d="M665.9 384.8 L667.1 386.3 L666.7 388.2 L665.1 389.1 L664.8 390.1 L665.9 391.7 L665.4 393.7 L663.8 394.3 L663.6 395.4 L664.6 397.1 L664.0 399.0 L662.4 399.5 L662.1 400.5 L663.0 402.4 L662.4 404.2 L660.9 404.5 L660.5 405.5 L661.3 407.5 L660.7 409.3 L659.1 409.4 L658.8 410.3 L659.5 412.4 L658.8 414.1 L657.3 414.1 L656.9 415.0 L657.5 417.1 L656.7 418.8 L655.2 418.5 L654.8 419.4 L655.3 421.6 L654.5 423.2 L653.1 422.7 L652.7 423.5 L653.1 425.8 L652.2 427.3 L650.9 426.6 L650.4 427.4 L650.7 429.7 L649.8 431.0 L648.6 430.2 L648.1 430.9 L648.3 433.3 L647.3 434.5 L646.2 433.5 L645.7 434.1 L645.7 436.5 L644.8 437.6 L643.7 436.5 L643.2 437.0 L643.1 439.4 L642.2 440.3 L641.2 439.0 L640.7 439.5 L640.5 441.8 L639.6 442.6 L638.7 441.2 L638.2 441.6 L637.9 443.9 L636.9 444.5 L636.1 443.0 L635.6 443.3 L635.2 445.5 L634.2 446.0 L633.6 444.3 L633.1 444.6 L632.6 446.7 L631.6 447.1 L631.1 445.3 L630.6 445.4 L629.9 447.5 L629.0 447.7 L628.6 445.8 L628.1 445.8 L627.4 447.9 L626.4 447.9 L626.2 445.9 L625.7 445.8 L624.8 447.7 L624.0 447.6 L623.8 445.5 L623.4 445.4 L622.4 447.2 L621.6 446.9 L621.5 444.7 L621.1 444.5 L620.1 446.2 L619.2 445.7 L619.4 443.5 L618.9 443.3 L617.8 444.8 L617.1 444.2 L617.3 441.9 L616.9 441.6 L615.7 442.9 L615.0 442.2 L615.4 439.9 L615.0 439.5 L613.7 440.7 L613.1 439.8 L613.6 437.5 L613.2 437.0 L611.9 438.0 L611.3 437.0 L611.9 434.7 L611.6 434.1 L610.3 435.0 L609.7 433.8 L610.4 431.5 L610.2 430.9 L608.8 431.6 L608.3 430.3 L609.1 428.1 L608.9 427.3 L607.5 427.8 L607.0 426.4 L608.0 424.3 L607.8 423.5 L606.3 423.8 L606.0 422.3 L607.0 420.2 L606.9 419.3 L605.4 419.4 L605.1 417.8 L606.3 415.8 L606.2 414.9 L604.7 414.8 L604.5 413.1 L605.7 411.2 L605.6 410.3 L604.2 410.0 L604.0 408.2 L605.4 406.4 L605.3 405.4 L603.9 405.0 L603.8 403.1 L605.2 401.4 L605.2 400.4 L603.8 399.8 L603.8 397.9 L605.3 396.3 L605.3 395.3 L603.9 394.5 L604.0 392.5 L605.5 391.1 L605.6 390.0 L604.3 389.0 L604.4 387.1 L606.0 385.8 L606.1 384.7 L604.8 383.6 L605.1 381.6 L606.6 380.4 L606.8 379.4 L605.6 378.0 L605.9 376.1 L607.5 375.1 L607.7 374.0 L606.5 372.5 L606.9 370.6 L608.5 369.7 L608.8 368.7 L607.7 367.1 L608.2 365.1 L609.8 364.5 L610.0 363.4 L609.0 361.7 L609.6 359.8 L611.2 359.3 L611.5 358.3 L610.6 356.4 L611.2 354.6 L612.7 354.3 L613.1 353.3 L612.3 351.3 L612.9 349.5 L614.5 349.4 L614.8 348.5 L614.1 346.4 L614.8 344.7 L616.3 344.7 L616.7 343.8 L616.1 341.7 L616.9 340.0 L618.4 340.3 L618.8 339.4 L618.3 337.2 L619.1 335.6 L620.5 336.1 L620.9 335.3 L620.5 333.0 L621.4 331.5 L622.7 332.2 L623.2 331.4 L622.9 329.1 L623.8 327.8 L625.0 328.6 L625.5 327.9 L625.3 325.5 L626.3 324.3 L627.4 325.3 L627.9 324.7 L627.9 322.3 L628.8 321.2 L629.9 322.3 L630.4 321.8 L630.5 319.4 L631.4 318.5 L632.4 319.8 L632.9 319.3 L633.1 317.0 L634.0 316.2 L634.9 317.6 L635.4 317.2 L635.7 314.9 L636.7 314.3 L637.5 315.8 L638.0 315.5 L638.4 313.3 L639.4 312.8 L640.0 314.5 L640.5 314.2 L641.0 312.1 L642.0 311.7 L642.5 313.5 L643.0 313.4 L643.7 311.3 L644.6 311.1 L645.0 313.0 L645.5 313.0 L646.2 310.9 L647.2 310.9 L647.4 312.9 L647.9 313.0 L648.8 311.1 L649.6 311.2 L649.8 313.3 L650.2 313.4 L651.2 311.6 L652.0 311.9 L652.1 314.1 L652.5 314.3 L653.5 312.6 L654.4 313.1 L654.2 315.3 L654.7 315.5 L655.8 314.0 L656.5 314.6 L656.3 316.9 L656.7 317.2 L657.9 315.9 L658.6 316.6 L658.2 318.9 L658.6 319.3 L659.9 318.1 L660.5 319.0 L660.0 321.3 L660.4 321.8 L661.7 320.8 L662.3 321.8 L661.7 324.1 L662.0 324.7 L663.3 323.8 L663.9 325.0 L663.2 327.3 L663.4 327.9 L664.8 327.2 L665.3 328.5 L664.5 330.7 L664.7 331.5 L666.1 331.0 L666.6 332.4 L665.6 334.5 L665.8 335.3 L667.3 335.0 L667.6 336.5 L666.6 338.6 L666.7 339.5 L668.2 339.4 L668.5 341.0 L667.3 343.0 L667.4 343.9 L668.9 344.0 L669.1 345.7 L667.9 347.6 L668.0 348.5 L669.4 348.8 L669.6 350.6 L668.2 352.4 L668.3 353.4 L669.7 353.8 L669.8 355.7 L668.4 357.4 L668.4 358.4 L669.8 359.0 L669.8 360.9 L668.3 362.5 L668.3 363.5 L669.7 364.3 L669.6 366.3 L668.1 367.7 L668.0 368.8 L669.3 369.8 L669.2 371.7 L667.6 373.0 L667.5 374.1 L668.8 375.2 L668.5 377.2 L667.0 378.4 L666.8 379.4 L668.0 380.8 L667.7 382.7 L666.1 383.7Z" style="stroke-width:0.9"/>
<ellipse class="w" cx="636.80" cy="379.40" rx="29.20" ry="66.60" transform="rotate(10.5 636.80 379.40)"/>
<path d="M652.8 419.6 L650.4 424.0 L647.9 428.0 L645.3 431.6 L642.6 434.7 L639.9 437.3 L637.1 439.4 L634.4 441.0 L631.7 442.0 L629.0 442.5 L626.4 442.4 L624.0 441.7 L621.6 440.5 L619.4 438.8 L617.3 436.5 L615.4 433.8 L613.7 430.5 L612.3 426.8 L611.0 422.7 L610.0 418.2 L609.2 413.4 L608.7 408.2 L608.5 402.8 L608.5 397.2 L608.7 391.4 L609.2 385.6 L610.0 379.7 L611.0 373.7 L612.3 367.9 L613.7 362.1 L615.4 356.5 L617.3 351.1 L619.4 345.9 L621.6 341.1 L624.0 336.5 L626.4 332.4 L629.0 328.7 L631.7 325.4 L634.4 322.7 L637.1 320.4 L639.9 318.6 L642.6 317.4 L645.3 316.8 L647.9 316.7 L650.4 317.1 L652.8 318.1 L655.1 319.7 L657.2 321.8 L659.2 324.4 L660.9 327.5 L662.5 331.0"/>
<path d="M652.6 418.0 L650.3 422.2 L647.9 426.0 L645.5 429.5 L643.0 432.4 L640.4 435.0 L637.8 437.0 L635.2 438.5 L632.7 439.5 L630.2 440.0 L627.8 439.9 L625.5 439.3 L623.3 438.2 L621.2 436.5 L619.3 434.3 L617.5 431.7 L616.0 428.6 L614.6 425.1 L613.5 421.1 L612.5 416.8 L611.9 412.2 L611.4 407.3 L611.2 402.1 L611.2 396.7 L611.5 391.2 L612.0 385.6 L612.7 379.9 L613.7 374.3 L614.9 368.7 L616.3 363.1 L617.9 357.7 L619.7 352.6 L621.6 347.6 L623.7 343.0 L625.9 338.6 L628.3 334.7 L630.7 331.1 L633.2 328.0 L635.8 325.3 L638.3 323.1 L640.9 321.4 L643.4 320.3 L646.0 319.6 L648.4 319.5 L650.8 319.9 L653.0 320.9 L655.1 322.4 L657.1 324.4 L658.9 326.8 L660.5 329.8 L661.9 333.2"/>
<path d="M652.2 416.4 L650.1 420.4 L647.8 424.1 L645.5 427.3 L643.2 430.2 L640.8 432.6 L638.4 434.6 L636.0 436.0 L633.6 437.0 L631.3 437.4 L629.1 437.4 L626.9 436.8 L624.9 435.8 L622.9 434.2 L621.2 432.1 L619.6 429.6 L618.1 426.7 L616.9 423.3 L615.8 419.5 L615.0 415.4 L614.4 411.0 L614.0 406.3 L613.8 401.4 L613.8 396.3 L614.1 391.0 L614.6 385.6 L615.3 380.2 L616.2 374.8 L617.4 369.4 L618.7 364.1 L620.2 359.0 L621.9 354.0 L623.7 349.3 L625.7 344.9 L627.8 340.7 L630.0 336.9 L632.3 333.5 L634.6 330.5 L637.0 327.9 L639.4 325.8 L641.8 324.2 L644.2 323.1 L646.5 322.5 L648.8 322.3 L651.0 322.7 L653.1 323.6 L655.0 325.0 L656.9 326.9 L658.5 329.3 L660.0 332.1 L661.3 335.3"/>
<path d="M651.8 414.7 L649.8 418.6 L647.8 422.1 L645.6 425.2 L643.4 428.0 L641.2 430.3 L639.0 432.1 L636.7 433.6 L634.5 434.5 L632.4 434.9 L630.3 434.9 L628.3 434.4 L626.4 433.4 L624.7 431.9 L623.1 429.9 L621.6 427.5 L620.3 424.7 L619.1 421.5 L618.2 418.0 L617.4 414.1 L616.9 409.8 L616.5 405.4 L616.4 400.7 L616.5 395.8 L616.7 390.8 L617.2 385.7 L617.9 380.5 L618.8 375.3 L619.9 370.2 L621.1 365.2 L622.6 360.2 L624.2 355.5 L625.9 351.0 L627.7 346.7 L629.7 342.8 L631.7 339.2 L633.9 335.9 L636.0 333.0 L638.3 330.6 L640.5 328.5 L642.7 327.0 L644.9 325.9 L647.1 325.3 L649.2 325.2 L651.2 325.5 L653.1 326.4 L654.9 327.7 L656.6 329.5 L658.1 331.7 L659.5 334.4 L660.7 337.5"/>
<path d="M651.5 413.3 L649.6 417.0 L647.7 420.3 L645.7 423.3 L643.6 426.0 L641.5 428.2 L639.5 430.0 L637.4 431.4 L635.4 432.3 L633.4 432.7 L631.4 432.7 L629.6 432.2 L627.8 431.2 L626.2 429.8 L624.7 428.0 L623.4 425.7 L622.2 423.0 L621.1 420.0 L620.3 416.6 L619.6 412.8 L619.1 408.8 L618.8 404.5 L618.7 400.0 L618.8 395.4 L619.1 390.6 L619.6 385.7 L620.2 380.7 L621.1 375.8 L622.1 370.9 L623.3 366.1 L624.6 361.4 L626.1 356.8 L627.8 352.5 L629.5 348.4 L631.3 344.6 L633.3 341.1 L635.2 338.0 L637.3 335.3 L639.4 332.9 L641.4 331.0 L643.5 329.4 L645.6 328.4 L647.6 327.8 L649.5 327.7 L651.4 328.0 L653.2 328.8 L654.9 330.1 L656.4 331.8 L657.8 333.9 L659.1 336.5 L660.1 339.4"/>
<ellipse cx="641.40" cy="380.40" rx="19.20" ry="51.90" transform="rotate(10.5 641.40 380.40)"/>
<path d="M657.4 321.6 L658.8 323.5 L660.0 325.5 L661.2 327.9 L662.3 330.4 L663.2 333.1 L664.1 336.1 L664.8 339.2 L665.4 342.5 L665.9 346.0 L666.2 349.6 L666.5 353.3 L666.6 357.2 L666.6 361.1 L666.4 365.1 L666.2 369.2 L665.8 373.3 L665.3 377.5 L664.6 381.6 L663.9 385.8 L663.0 389.9 L662.0 394.0 L661.0 398.0 L659.8 401.9 L658.5 405.7 L657.1 409.5 L655.7 413.1 L654.1 416.5 L652.5 419.8 L650.9 422.9 L649.1 425.9 L647.4 428.6 L645.5 431.1 L643.7 433.4 L641.8 435.5 L639.9 437.3 L637.9 438.9 L636.0 440.2 L634.1 441.3 L632.2 442.1 L630.3 442.6"/>
<ellipse class="w" cx="640.20" cy="382.00" rx="6.60" ry="14.20" transform="rotate(10.5 640.20 382.00)" style="stroke-width:1.1"/>
<path d="M646.6 371.8 L647.2 373.2 L647.6 374.8 L647.9 376.7 L648.0 378.7 L647.9 380.8 L647.6 383.0 L647.1 385.1 L646.5 387.2 L645.8 389.1 L644.9 390.8 L643.9 392.3 L642.9 393.5 L641.8 394.4 L640.8 395.0 L639.7 395.1 L638.7 394.9"/>
<ellipse class="w" cx="650.00" cy="357.60" rx="1.50" ry="2.70" transform="rotate(10.5 650.00 357.60)" style="stroke-width:1.1"/>
<ellipse class="w" cx="626.60" cy="384.20" rx="1.50" ry="2.70" transform="rotate(10.5 626.60 384.20)" style="stroke-width:1.1"/>
<ellipse class="w" cx="642.40" cy="403.60" rx="1.50" ry="2.70" transform="rotate(10.5 642.40 403.60)" style="stroke-width:1.1"/>
</g>
<g id="p174">
<line x1="57.9" y1="428.1" x2="122.5" y2="445.3" style="stroke-width:0.8"/>
<line x1="40.0" y1="483.8" x2="98.0" y2="499.2" style="stroke-width:0.8"/>
<path class="w" d="M76.8 427.4L81.4 428.6L81.4 428.6 L82.3 429.1 L82.9 430.2 L83.2 431.8 L83.2 433.6 L82.9 435.5 L82.3 437.3 L81.4 438.9 L80.4 440.1 L79.3 440.7 L78.3 440.8L73.6 439.6L73.6 439.6 L72.8 439.1 L72.1 438.0 L71.8 436.4 L71.8 434.6 L72.2 432.7 L72.8 430.9 L73.7 429.3 L74.7 428.1 L75.8 427.5 L76.8 427.4Z"/>
<ellipse cx="79.85" cy="434.70" rx="3.15" ry="6.30" transform="rotate(14.5 79.85 434.70)"/>
<path d="M76.2 440.3 L75.3 439.7 L74.7 438.6 L74.4 437.1 L74.4 435.3 L74.7 433.4 L75.3 431.5 L76.2 429.9 L77.2 428.8 L78.3 428.1 L79.3 428.1"/>
<path class="w" d="M80.7 431.4L105.9 437.9L105.9 437.9 L106.4 438.3 L106.7 439.2 L106.7 440.3 L106.5 441.6 L106.1 442.8 L105.5 443.8 L104.8 444.4 L104.2 444.5L79.0 438.0L79.0 438.0 L78.5 437.6 L78.2 436.8 L78.2 435.6 L78.4 434.3 L78.8 433.1 L79.4 432.1 L80.1 431.5 L80.7 431.4Z"/>
<ellipse cx="105.02" cy="441.21" rx="1.53" ry="3.40" transform="rotate(14.5 105.02 441.21)"/>
<ellipse class="k" cx="104.92" cy="441.21" rx="1.22" ry="2.72" transform="rotate(14.5 104.92 441.21)"/>
<line x1="78.4" y1="437.4" x2="103.5" y2="443.9" style="stroke-width:0.6"/>
<path class="w" d="M54.2 481.8L58.8 483.0L58.8 483.0 L59.7 483.5 L60.3 484.6 L60.6 486.2 L60.6 488.0 L60.3 489.9 L59.7 491.7 L58.8 493.3 L57.8 494.5 L56.7 495.1 L55.7 495.2L51.0 494.0L51.0 494.0 L50.2 493.5 L49.5 492.4 L49.2 490.8 L49.2 489.0 L49.6 487.1 L50.2 485.3 L51.1 483.7 L52.1 482.5 L53.2 481.9 L54.2 481.8Z"/>
<ellipse cx="57.25" cy="489.10" rx="3.15" ry="6.30" transform="rotate(14.5 57.25 489.10)"/>
<path d="M53.6 494.7 L52.7 494.1 L52.1 493.0 L51.8 491.5 L51.8 489.7 L52.1 487.8 L52.7 485.9 L53.6 484.3 L54.6 483.2 L55.7 482.5 L56.7 482.5"/>
<path class="w" d="M58.1 485.8L83.9 492.5L83.9 492.5 L84.4 492.9 L84.6 493.7 L84.7 494.9 L84.5 496.1 L84.0 497.4 L83.4 498.4 L82.8 498.9 L82.1 499.1L56.4 492.4L56.4 492.4 L55.9 492.0 L55.6 491.2 L55.6 490.0 L55.8 488.7 L56.2 487.5 L56.8 486.5 L57.5 485.9 L58.1 485.8Z"/>
<ellipse cx="83.00" cy="495.76" rx="1.53" ry="3.40" transform="rotate(14.5 83.00 495.76)"/>
<ellipse class="k" cx="82.90" cy="495.76" rx="1.22" ry="2.72" transform="rotate(14.5 82.90 495.76)"/>
<line x1="55.8" y1="491.8" x2="81.5" y2="498.4" style="stroke-width:0.6"/>
</g>
<g id="p173">
<line x1="90.2" y1="467.0" x2="150.0" y2="482.4" style="stroke-width:0.8"/>
<path class="w" d="M122.9 439 L134.6 441 L137.2 443.8 L136.8 450.4 C138.6 456 138.4 470 135.6 478 C133 486 128 493.6 122.9 498 L116.5 500.8 L115 506.4 L112.3 510.6 L108.6 511.6 L99 508.6 L96.9 504.3 L97.4 499 L100.6 489.5 L101.2 483 L101.7 468.2 L103.8 465 L111.2 455.5 L118.1 447 L120.8 440.6 Z" style="stroke-width:1.05"/>
<path d="M120.8 448 L127.4 447 L131 447.4 L134.6 441 M131 447.4 L136.8 450.4 M120.8 440.6 L122.4 443.4 L120.8 448 L118.1 447"/>
<path d="M127.4 447 L126.2 451.2 L122 452.8 L122 456.4 L114.4 460.8 L107.5 469.3 L105.9 476.7 L107 483.1" style="stroke-width:1.2"/>
<path d="M122.4 443.4 L128 442.6 L131 447.4" style="stroke-width:0.7"/>
<ellipse cx="134.60" cy="445.80" rx="1.00" ry="2.10" transform="rotate(14.5 134.60 445.80)"/>
<path d="M129.8 452.8 C134 456.4 134.8 468 132.5 477.8 C130.4 485.6 126.6 491.8 118.7 496.9" style="stroke-width:1.1"/>
<path d="M127.2 456.5 C130 460 130.4 469 127.7 477.8 C125.6 484.6 121.4 490.4 115.5 493.7" style="stroke-width:0.9"/>
<path d="M131.6 451.4 C136.4 457 136.6 469 134 478.2" style="stroke-width:0.7"/>
<ellipse class="w" cx="113.70" cy="472.40" rx="5.40" ry="10.00" transform="rotate(14.5 113.70 472.40)" style="stroke-width:1.0"/>
<ellipse class="k" cx="114.00" cy="472.50" rx="4.00" ry="7.60" transform="rotate(14.5 114.00 472.50)"/>
<ellipse class="w" cx="114.50" cy="472.70" rx="2.30" ry="4.40" transform="rotate(14.5 114.50 472.70)" style="stroke-width:0.6"/>
<ellipse class="k" cx="114.90" cy="472.90" rx="1.20" ry="2.20" transform="rotate(14.5 114.90 472.90)"/>
<path d="M106.6 482.0 L105.9 480.5 L105.5 478.7 L105.2 476.8 L105.2 474.7 L105.4 472.5 L105.8 470.3 L106.5 468.2 L107.4 466.2 L108.4 464.4 L109.6 462.8 L110.8 461.5 L112.2 460.5 L113.6 459.9 L114.9 459.7 L116.2 459.8 L117.4 460.3" style="stroke-width:0.8"/>
<path d="M103.6 484.4 L106.4 483.4 L108 485 L107.8 491.6 L105.4 493 L103.4 491.4 Z" style="stroke-width:1.3"/>
<path d="M105.6 485 L105.6 491.6 M109.4 485.4 L110.6 492.8 L113 492.4" style="stroke-width:1.4"/>
<path class="k" d="M111.6 489.6 L114.6 490.4 L116.4 493 L115 496 L112 495 Z" style="stroke-width:0.8"/>
<path d="M101.7 468.2 L104.4 469.6 L104.2 478 L103.4 484.6 M100.6 489.5 L103.4 491.4"/>
<path d="M97.4 499 L107.6 501.8 L110.4 498.4 L114.6 498.6 L116.5 500.8 M107.6 501.8 L107.4 506 L108.6 511.6"/>
<ellipse class="w" cx="111.90" cy="502.40" rx="1.70" ry="3.00" transform="rotate(14.5 111.90 502.40)"/>
</g>
<g id="p172">
<line x1="144.5" y1="480.9" x2="149.0" y2="482.1" style="stroke-width:0.8"/>
<path class="w" d="M150.8 478.9L155.5 480.2L155.5 480.2 L155.7 480.3 L156.0 480.5 L156.1 480.8 L156.3 481.2 L156.3 481.7 L156.4 482.2 L156.3 482.8 L156.3 483.3 L156.1 483.9 L155.9 484.5 L155.7 485.1 L155.5 485.6 L155.2 486.0 L154.9 486.4 L154.6 486.7 L154.3 486.9 L154.0 486.9 L153.7 486.9L149.0 485.7L149.0 485.7 L148.8 485.6 L148.5 485.4 L148.4 485.0 L148.2 484.7 L148.2 484.2 L148.1 483.7 L148.2 483.1 L148.2 482.5 L148.4 481.9 L148.6 481.3 L148.8 480.8 L149.0 480.3 L149.3 479.8 L149.6 479.5 L149.9 479.2 L150.2 479.0 L150.5 478.9 L150.8 478.9Z"/>
<ellipse cx="154.60" cy="483.54" rx="1.57" ry="3.50" transform="rotate(14.65 154.60 483.54)"/>
<path class="w" d="M159.0 476.9L161.3 477.5L161.3 477.5 L161.8 477.8 L162.3 478.3 L162.7 478.9 L163.0 479.8 L163.1 480.8 L163.2 481.9 L163.1 483.1 L162.9 484.4 L162.7 485.6 L162.3 486.9 L161.8 488.1 L161.3 489.2 L160.7 490.1 L160.0 490.9 L159.4 491.5 L158.7 491.9 L158.1 492.1 L157.5 492.1L155.2 491.5L155.2 491.5 L154.7 491.2 L154.2 490.7 L153.8 490.1 L153.5 489.2 L153.4 488.2 L153.3 487.1 L153.4 485.9 L153.6 484.6 L153.8 483.3 L154.2 482.1 L154.7 480.9 L155.2 479.8 L155.8 478.9 L156.5 478.1 L157.1 477.5 L157.8 477.1 L158.4 476.9 L159.0 476.9Z"/>
<ellipse cx="159.40" cy="484.80" rx="3.38" ry="7.50" transform="rotate(14.65 159.40 484.80)"/>
<path d="M156.3 491.7 L155.8 491.5 L155.3 491.0 L154.9 490.3 L154.6 489.5 L154.5 488.5 L154.4 487.4 L154.5 486.2 L154.7 484.9 L154.9 483.6 L155.3 482.4 L155.8 481.2 L156.3 480.1 L156.9 479.2 L157.6 478.4 L158.2 477.8 L158.9 477.4 L159.5 477.2 L160.1 477.2"/>
<path class="w" d="M167.2 474.9L174.5 476.8L174.5 476.8 L175.4 477.2 L176.1 477.9 L176.7 478.9 L177.1 480.2 L177.4 481.8 L177.4 483.5 L177.3 485.4 L177.1 487.3 L176.7 489.3 L176.1 491.2 L175.3 493.1 L174.5 494.7 L173.6 496.2 L172.6 497.4 L171.6 498.4 L170.6 499.0 L169.6 499.3 L168.7 499.2L161.4 497.3L161.4 497.3 L160.5 496.9 L159.8 496.2 L159.2 495.1 L158.8 493.8 L158.5 492.3 L158.5 490.5 L158.6 488.7 L158.8 486.7 L159.2 484.8 L159.8 482.8 L160.6 481.0 L161.4 479.3 L162.3 477.9 L163.3 476.6 L164.3 475.7 L165.3 475.1 L166.3 474.8 L167.2 474.9Z"/>
<ellipse cx="171.60" cy="487.99" rx="5.22" ry="11.60" transform="rotate(14.65 171.60 487.99)"/>
<path d="M163.5 497.8 L162.6 497.4 L161.9 496.7 L161.3 495.7 L160.9 494.4 L160.6 492.8 L160.6 491.1 L160.7 489.2 L160.9 487.3 L161.3 485.3 L161.9 483.4 L162.7 481.5 L163.5 479.9 L164.4 478.4 L165.4 477.2 L166.4 476.2 L167.4 475.6 L168.4 475.3 L169.3 475.4"/>
<path d="M164.7 498.2 L163.8 497.8 L163.1 497.0 L162.5 496.0 L162.1 494.7 L161.8 493.1 L161.8 491.4 L161.9 489.5 L162.1 487.6 L162.5 485.6 L163.1 483.7 L163.9 481.9 L164.7 480.2 L165.6 478.7 L166.6 477.5 L167.6 476.6 L168.6 475.9 L169.6 475.7 L170.5 475.7"/>
<path class="w" d="M178.9 474.8L181.9 475.6L181.9 475.6 L182.9 476.1 L183.8 477.0 L184.6 478.3 L185.1 480.0 L185.4 481.9 L185.6 484.1 L185.4 486.4 L185.1 488.9 L184.6 491.4 L183.8 493.8 L182.9 496.1 L181.9 498.2 L180.7 500.1 L179.5 501.6 L178.2 502.8 L176.9 503.6 L175.7 503.9 L174.5 503.8L171.5 503.1L171.5 503.1 L170.5 502.5 L169.6 501.6 L168.8 500.3 L168.3 498.7 L168.0 496.7 L167.8 494.5 L168.0 492.2 L168.3 489.7 L168.8 487.3 L169.6 484.8 L170.5 482.5 L171.5 480.4 L172.7 478.6 L173.9 477.0 L175.2 475.9 L176.5 475.1 L177.7 474.7 L178.9 474.8Z"/>
<ellipse cx="178.20" cy="489.71" rx="6.57" ry="14.60" transform="rotate(14.65 178.20 489.71)"/>
<rect class="w" x="169.2" y="501.7" width="3.0" height="3.2" transform="rotate(-67 170.5 503.3)" style="stroke-width:1.1"/>
<rect class="w" x="167.4" y="499.6" width="3.0" height="3.2" transform="rotate(-47 168.7 501.2)" style="stroke-width:1.1"/>
<rect class="w" x="166.5" y="495.9" width="3.0" height="3.2" transform="rotate(-27 167.8 497.5)" style="stroke-width:1.1"/>
<rect class="w" x="166.4" y="491.3" width="3.0" height="3.2" transform="rotate(-7 167.7 492.9)" style="stroke-width:1.1"/>
<rect class="w" x="167.2" y="486.2" width="3.0" height="3.2" transform="rotate(13 168.5 487.8)" style="stroke-width:1.1"/>
<rect class="w" x="168.9" y="481.2" width="3.0" height="3.2" transform="rotate(33 170.2 482.8)" style="stroke-width:1.1"/>
<rect class="w" x="171.1" y="477.0" width="3.0" height="3.2" transform="rotate(53 172.4 478.6)" style="stroke-width:1.1"/>
<rect class="w" x="173.7" y="474.0" width="3.0" height="3.2" transform="rotate(73 175.0 475.6)" style="stroke-width:1.1"/>
<rect class="w" x="176.3" y="472.6" width="3.0" height="3.2" transform="rotate(93 177.6 474.2)" style="stroke-width:1.1"/>
<path d="M172.8 503.1 L171.9 502.5 L171.2 501.5 L170.5 500.2 L170.1 498.6 L169.8 496.8 L169.8 494.8 L169.9 492.6 L170.2 490.4 L170.6 488.1 L171.3 485.9 L172.1 483.7 L173.0 481.7 L174.0 479.9 L175.1 478.4 L176.3 477.1 L177.5 476.2 L178.6 475.6 L179.7 475.4" style="stroke-width:1.2"/>
<path class="w" d="M192.8 472.4L209.2 476.7L209.2 476.7 L210.6 477.4 L211.9 478.7 L212.9 480.5 L213.7 482.8 L214.1 485.5 L214.3 488.6 L214.1 491.9 L213.6 495.3 L212.9 498.8 L211.9 502.2 L210.6 505.4 L209.1 508.3 L207.5 510.9 L205.8 513.1 L204.0 514.7 L202.2 515.8 L200.5 516.3 L198.8 516.2L182.4 511.9L182.4 511.9 L181.0 511.2 L179.7 509.9 L178.7 508.1 L177.9 505.8 L177.5 503.1 L177.3 500.0 L177.5 496.7 L178.0 493.3 L178.7 489.8 L179.7 486.5 L181.0 483.2 L182.5 480.3 L184.1 477.7 L185.8 475.6 L187.6 473.9 L189.4 472.8 L191.1 472.3 L192.8 472.4Z"/>
<ellipse cx="204.00" cy="496.45" rx="9.18" ry="20.40" transform="rotate(14.65 204.00 496.45)"/>
<path d="M185.0 512.6 L183.6 511.9 L182.3 510.6 L181.3 508.8 L180.5 506.5 L180.1 503.8 L179.9 500.7 L180.1 497.4 L180.6 494.0 L181.3 490.5 L182.3 487.1 L183.6 483.9 L185.1 481.0 L186.7 478.4 L188.4 476.2 L190.2 474.6 L192.0 473.5 L193.7 473.0 L195.4 473.1" style="stroke-width:0.9"/>
<path d="M186.4 513.0 L185.0 512.2 L183.7 511.0 L182.7 509.1 L181.9 506.8 L181.5 504.1 L181.3 501.1 L181.5 497.8 L182.0 494.4 L182.7 490.9 L183.7 487.5 L185.0 484.3 L186.5 481.3 L188.1 478.7 L189.8 476.6 L191.6 475.0 L193.4 473.9 L195.1 473.4 L196.8 473.5" style="stroke-width:0.9"/>
<path d="M191.0 514.2 L189.6 513.4 L188.3 512.2 L187.3 510.3 L186.5 508.0 L186.1 505.3 L185.9 502.3 L186.1 499.0 L186.6 495.6 L187.3 492.1 L188.3 488.7 L189.6 485.5 L191.1 482.5 L192.7 480.0 L194.4 477.8 L196.2 476.2 L198.0 475.1 L199.7 474.6 L201.4 474.7" style="stroke-width:0.9"/>
<path d="M193.0 514.7 L191.6 514.0 L190.3 512.7 L189.3 510.9 L188.5 508.6 L188.1 505.8 L187.9 502.8 L188.1 499.5 L188.6 496.1 L189.3 492.6 L190.3 489.2 L191.6 486.0 L193.1 483.1 L194.7 480.5 L196.4 478.3 L198.2 476.7 L200.0 475.6 L201.7 475.1 L203.4 475.2" style="stroke-width:0.9"/>
<path d="M194.4 515.0 L193.0 514.3 L191.7 513.1 L190.7 511.2 L189.9 508.9 L189.5 506.2 L189.3 503.2 L189.5 499.9 L190.0 496.4 L190.7 493.0 L191.7 489.6 L193.0 486.4 L194.5 483.4 L196.1 480.8 L197.8 478.7 L199.6 477.1 L201.4 476.0 L203.1 475.5 L204.8 475.6" style="stroke-width:0.9"/>
<path class="k" d="M210.6 475.8L218.3 477.9L218.3 477.9 L219.4 478.3 L220.4 479.2 L221.3 480.3 L222.0 481.8 L222.6 483.6 L223.0 485.6 L223.3 487.9 L223.3 490.3 L223.2 492.9 L222.9 495.6 L222.4 498.4 L221.8 501.1 L221.0 503.8 L220.1 506.4 L219.0 508.9 L217.9 511.2 L216.6 513.3 L215.3 515.2 L213.9 516.8 L212.6 518.0 L211.2 519.0 L209.9 519.5 L208.6 519.8 L207.3 519.7L199.6 517.6L199.6 517.6 L198.5 517.2 L197.5 516.3 L196.6 515.1 L195.9 513.7 L195.3 511.9 L194.9 509.9 L194.6 507.6 L194.6 505.2 L194.7 502.6 L195.0 499.9 L195.5 497.1 L196.1 494.4 L196.9 491.7 L197.8 489.1 L198.9 486.6 L200.0 484.3 L201.3 482.2 L202.6 480.3 L204.0 478.7 L205.3 477.5 L206.7 476.5 L208.0 475.9 L209.3 475.7 L210.6 475.8Z"/>
<ellipse cx="212.80" cy="498.76" rx="9.30" ry="21.60" transform="rotate(14.65 212.80 498.76)"/>
<line x1="200.2" y1="517.8" x2="205.8" y2="519.3" style="stroke:#fff;stroke-width:0.75"/>
<line x1="199.3" y1="517.3" x2="204.9" y2="518.8" style="stroke:#fff;stroke-width:0.75"/>
<line x1="198.5" y1="516.7" x2="204.1" y2="518.2" style="stroke:#fff;stroke-width:0.75"/>
<line x1="197.8" y1="515.8" x2="203.4" y2="517.3" style="stroke:#fff;stroke-width:0.75"/>
<line x1="197.1" y1="514.7" x2="202.7" y2="516.2" style="stroke:#fff;stroke-width:0.75"/>
<line x1="196.6" y1="513.4" x2="202.2" y2="514.9" style="stroke:#fff;stroke-width:0.75"/>
<line x1="196.2" y1="512.0" x2="201.8" y2="513.5" style="stroke:#fff;stroke-width:0.75"/>
<line x1="195.8" y1="510.4" x2="201.4" y2="511.9" style="stroke:#fff;stroke-width:0.75"/>
<line x1="195.6" y1="508.6" x2="201.2" y2="510.1" style="stroke:#fff;stroke-width:0.75"/>
<line x1="195.5" y1="506.7" x2="201.1" y2="508.2" style="stroke:#fff;stroke-width:0.75"/>
<line x1="195.5" y1="504.7" x2="201.1" y2="506.2" style="stroke:#fff;stroke-width:0.75"/>
<line x1="195.6" y1="502.6" x2="201.2" y2="504.1" style="stroke:#fff;stroke-width:0.75"/>
<line x1="195.8" y1="500.5" x2="201.4" y2="502.0" style="stroke:#fff;stroke-width:0.75"/>
<line x1="196.2" y1="498.3" x2="201.8" y2="499.8" style="stroke:#fff;stroke-width:0.75"/>
<line x1="196.6" y1="496.1" x2="202.2" y2="497.6" style="stroke:#fff;stroke-width:0.75"/>
<line x1="197.2" y1="493.9" x2="202.8" y2="495.4" style="stroke:#fff;stroke-width:0.75"/>
<line x1="197.9" y1="491.7" x2="203.5" y2="493.2" style="stroke:#fff;stroke-width:0.75"/>
<line x1="198.6" y1="489.6" x2="204.2" y2="491.1" style="stroke:#fff;stroke-width:0.75"/>
<line x1="199.4" y1="487.6" x2="205.0" y2="489.1" style="stroke:#fff;stroke-width:0.75"/>
<line x1="200.3" y1="485.7" x2="205.9" y2="487.2" style="stroke:#fff;stroke-width:0.75"/>
<line x1="201.3" y1="483.9" x2="206.9" y2="485.4" style="stroke:#fff;stroke-width:0.75"/>
<line x1="202.3" y1="482.3" x2="207.9" y2="483.7" style="stroke:#fff;stroke-width:0.75"/>
<line x1="203.3" y1="480.8" x2="208.9" y2="482.2" style="stroke:#fff;stroke-width:0.75"/>
<line x1="204.4" y1="479.5" x2="210.0" y2="480.9" style="stroke:#fff;stroke-width:0.75"/>
<line x1="205.5" y1="478.3" x2="211.1" y2="479.8" style="stroke:#fff;stroke-width:0.75"/>
<line x1="206.6" y1="477.4" x2="212.2" y2="478.9" style="stroke:#fff;stroke-width:0.75"/>
<line x1="207.7" y1="476.7" x2="213.3" y2="478.2" style="stroke:#fff;stroke-width:0.75"/>
<line x1="208.8" y1="476.2" x2="214.4" y2="477.7" style="stroke:#fff;stroke-width:0.75"/>
<line x1="209.8" y1="476.0" x2="215.4" y2="477.5" style="stroke:#fff;stroke-width:0.75"/>
<line x1="210.8" y1="476.0" x2="216.4" y2="477.4" style="stroke:#fff;stroke-width:0.75"/>
<ellipse class="w" cx="212.80" cy="498.76" rx="9.30" ry="21.60" transform="rotate(14.65 212.80 498.76)" style="stroke-width:1.5"/>
<ellipse cx="213.10" cy="498.86" rx="8.20" ry="19.80" transform="rotate(14.65 213.10 498.86)" style="stroke-width:0.8"/>
<path class="w" d="M212.7 494.3L221.7 496.6L221.7 496.6 L222.3 497.1 L222.7 498.2 L222.7 499.6 L222.4 501.3 L221.9 502.8 L221.1 504.1 L220.3 504.8 L219.5 505.0L210.5 502.6L210.5 502.6 L209.9 502.1 L209.5 501.0 L209.5 499.6 L209.8 498.0 L210.3 496.4 L211.1 495.2 L211.9 494.4 L212.7 494.3Z"/>
<ellipse class="w" cx="211.60" cy="498.44" rx="1.90" ry="4.30" transform="rotate(14.65 211.60 498.44)"/>
<ellipse cx="220.60" cy="500.79" rx="1.90" ry="4.30" transform="rotate(14.65 220.60 500.79)"/>
<line x1="222.6" y1="500.3" x2="250.0" y2="507.6" style="stroke-width:0.8"/>
</g>
<g id="p170">
<path class="w" d="M335.3 510.5L394.5 525.5L394.5 525.5 L395.9 526.0 L397.1 526.8 L398.3 527.9 L399.3 529.2 L400.2 530.8 L400.9 532.7 L401.6 534.8 L402.0 537.0 L402.3 539.5 L402.5 542.1 L402.5 544.8 L402.3 547.6 L401.9 550.4 L401.4 553.3 L400.8 556.2 L400.0 559.0 L399.1 561.8 L398.0 564.5 L396.8 567.0 L395.6 569.4 L394.2 571.6 L392.8 573.6 L391.3 575.4 L389.8 576.9 L388.2 578.2 L386.6 579.2 L385.1 579.9 L383.6 580.3 L382.1 580.4 L380.7 580.2L321.5 565.2L321.5 565.2 L320.1 564.7 L318.9 563.9 L317.7 562.8 L316.7 561.5 L315.8 559.9 L315.1 558.0 L314.4 555.9 L314.0 553.7 L313.7 551.2 L313.5 548.6 L313.5 545.9 L313.7 543.1 L314.1 540.3 L314.6 537.4 L315.2 534.5 L316.0 531.7 L316.9 528.9 L318.0 526.2 L319.2 523.7 L320.4 521.3 L321.8 519.1 L323.2 517.1 L324.7 515.3 L326.2 513.8 L327.8 512.5 L329.4 511.5 L330.9 510.8 L332.4 510.4 L333.9 510.3 L335.3 510.5Z"/>
<ellipse cx="387.60" cy="552.84" rx="13.60" ry="28.20" transform="rotate(14.2 387.60 552.84)"/>
<ellipse cx="390.20" cy="553.50" rx="11.20" ry="23.40" transform="rotate(14.2 390.20 553.50)"/>
<path class="w" d="M391.5 544.1L397.7 545.7L397.7 545.7 L398.7 546.3 L399.5 547.5 L400.0 549.1 L400.2 551.2 L400.1 553.5 L399.7 555.9 L398.9 558.2 L397.9 560.3 L396.8 562.0 L395.5 563.2 L394.3 563.9 L393.1 563.9L386.9 562.4L386.9 562.4 L385.9 561.8 L385.1 560.6 L384.6 558.9 L384.4 556.9 L384.5 554.6 L384.9 552.2 L385.7 549.8 L386.7 547.8 L387.8 546.0 L389.1 544.8 L390.3 544.2 L391.5 544.1Z"/>
<ellipse cx="395.40" cy="554.81" rx="4.40" ry="9.40" transform="rotate(14.2 395.40 554.81)"/>
<path d="M388.5 562.8 L387.5 562.2 L386.7 561.0 L386.2 559.3 L386.0 557.3 L386.1 555.0 L386.5 552.6 L387.3 550.2 L388.3 548.2 L389.4 546.4 L390.7 545.2 L391.9 544.6 L393.1 544.5"/>
<path d="M390.1 562.3 L389.2 561.8 L388.4 560.7 L388.0 559.2 L387.8 557.3 L387.9 555.2 L388.3 553.0 L389.0 550.9 L389.9 549.0 L390.9 547.4 L392.1 546.3 L393.2 545.7 L394.3 545.7"/>
<ellipse cx="395.90" cy="554.93" rx="2.60" ry="5.60" transform="rotate(14.2 395.90 554.93)"/>
<path d="M320.8 565.1 L319.5 564.5 L318.4 563.6 L317.3 562.5 L316.3 561.1 L315.4 559.5 L314.7 557.6 L314.1 555.6 L313.7 553.3 L313.4 550.9 L313.3 548.3 L313.4 545.7 L313.5 542.9 L313.9 540.2 L314.4 537.3 L315.0 534.5 L315.8 531.7 L316.7 529.0 L317.7 526.4 L318.9 523.9 L320.1 521.6 L321.4 519.4 L322.8 517.4 L324.3 515.6 L325.7 514.1 L327.3 512.8 L328.8 511.7 L330.3 511.0 L331.8 510.5 L333.2 510.3 L334.7 510.4" style="stroke-width:1.3;stroke:#444"/>
<path d="M322.0 565.2 L320.8 564.5 L319.7 563.6 L318.6 562.4 L317.8 560.9 L317.0 559.3 L316.3 557.4 L315.8 555.4 L315.4 553.1 L315.2 550.8 L315.1 548.3 L315.2 545.7 L315.4 543.1 L315.7 540.4 L316.2 537.6 L316.8 534.9 L317.6 532.2 L318.4 529.6 L319.4 527.1 L320.5 524.6 L321.7 522.3 L322.9 520.2 L324.3 518.2 L325.7 516.5 L327.1 514.9 L328.5 513.6 L330.0 512.5 L331.5 511.7 L332.9 511.1 L334.4 510.8 L335.7 510.7" style="stroke-width:0.8"/>
<path class="w" d="M293.9 516.1L302.7 518.4L302.7 518.4 L303.7 518.9 L304.5 519.8 L305.2 521.2 L305.6 522.9 L305.8 524.9 L305.8 527.2 L305.5 529.5 L305.0 531.9 L304.3 534.3 L303.4 536.5 L302.4 538.5 L301.3 540.2 L300.0 541.5 L298.8 542.4 L297.6 542.8 L296.5 542.8L287.7 540.6L287.7 540.6 L286.7 540.1 L285.9 539.1 L285.2 537.7 L284.8 536.0 L284.6 534.0 L284.6 531.8 L284.9 529.4 L285.4 527.0 L286.1 524.6 L287.0 522.4 L288.0 520.4 L289.1 518.7 L290.4 517.4 L291.6 516.5 L292.8 516.1 L293.9 516.1Z"/>
<ellipse class="w" cx="299.60" cy="530.57" rx="5.60" ry="12.60" transform="rotate(14.2 299.60 530.57)"/>
<path d="M289.9 541.1 L288.9 540.6 L288.1 539.7 L287.4 538.3 L287.0 536.6 L286.8 534.5 L286.8 532.3 L287.1 529.9 L287.6 527.5 L288.3 525.2 L289.2 523.0 L290.2 521.0 L291.3 519.3 L292.6 518.0 L293.8 517.1 L295.0 516.6 L296.1 516.7"/>
<path d="M292.2 540.2 L291.4 539.6 L290.8 538.7 L290.3 537.4 L290.0 535.9 L289.8 534.2 L289.9 532.3 L290.1 530.3 L290.6 528.3 L291.1 526.3 L291.9 524.4 L292.7 522.7 L293.7 521.3 L294.7 520.1 L295.7 519.2 L296.7 518.7 L297.7 518.6"/>
<path class="w" d="M304 497 C304 495.4 305 494.6 306.6 494.6 L321.4 493.2 L327.2 497.6 L333.4 501.6 L339.2 507 L339.6 511.4 L330 509.6 C322.6 512 314.8 521 311.8 533 C309.6 544 311 556 314.6 561.4 L319.4 564.4 L322.4 566.2 C320 568.4 316 568.8 306 568.4 L304.6 563.6 L305.4 559.8 L305.8 547.6 L302 546 L300 541 C298.4 533 299.2 523 302.4 515.2 L305.6 509 L307.4 503 L304.2 501.6 Z"/>
<path d="M307.4 503 L323.8 501.6 M323.8 501.6 L327.2 497.6 M323.8 501.6 L321.6 509.4 L314.8 520.8 M305.6 509 L321.6 509.4"/>
<path d="M306.6 494.6 L308.4 497.4 L324.6 495.8 L321.4 493.2 M308.4 497.4 L307.4 503" style="stroke-width:0.8"/>
<path d="M312.6 494.4 L314.4 496.8 M315.6 494.2 L317.4 496.6 M318.6 494 L320.4 496.4 M321 493.6 L323 496" style="stroke-width:1.1"/>
<path d="M327.2 497.6 L330.6 503.6 L337.4 508.6 M330.6 503.6 L330 509.6"/>
<path class="w" d="M278.7 520.8L288.5 523.3L288.5 523.3 L289.1 523.8 L289.4 524.9 L289.5 526.3 L289.2 528.0 L288.7 529.5 L288.0 530.8 L287.1 531.5 L286.3 531.7L276.5 529.2L276.5 529.2 L275.9 528.7 L275.6 527.6 L275.5 526.2 L275.8 524.5 L276.3 523.0 L277.0 521.7 L277.9 521.0 L278.7 520.8Z"/>
<ellipse class="w" cx="287.40" cy="527.48" rx="1.90" ry="4.30" transform="rotate(14.2 287.40 527.48)"/>
<path class="w" d="M287.8 541.2L307.0 546.2L307.0 546.2 L307.8 546.7 L308.4 547.8 L308.7 549.3 L308.7 551.2 L308.3 553.1 L307.7 555.0 L306.8 556.6 L305.8 557.9 L304.8 558.5 L303.8 558.6L284.6 553.6L284.6 553.6 L283.8 553.1 L283.2 552.0 L282.9 550.5 L282.9 548.6 L283.3 546.7 L283.9 544.8 L284.8 543.2 L285.8 541.9 L286.8 541.3 L287.8 541.2Z"/>
<ellipse cx="305.40" cy="552.40" rx="3.00" ry="6.40" transform="rotate(14.2 305.40 552.40)"/>
<ellipse class="w" cx="306.00" cy="552.60" rx="2.00" ry="3.90" transform="rotate(14.2 306.00 552.60)" style="stroke-width:1.2"/>
<path class="w" d="M285.1 556.6L302.3 561.0L302.3 561.0 L303.2 561.6 L303.8 562.7 L304.2 564.4 L304.2 566.3 L303.8 568.4 L303.1 570.4 L302.2 572.1 L301.1 573.4 L300.0 574.1 L298.9 574.2L281.7 569.8L281.7 569.8 L280.8 569.2 L280.2 568.1 L279.8 566.4 L279.8 564.5 L280.2 562.4 L280.9 560.4 L281.8 558.7 L282.9 557.4 L284.0 556.7 L285.1 556.6Z"/>
<ellipse cx="300.60" cy="567.60" rx="3.30" ry="6.80" transform="rotate(14.2 300.60 567.60)"/>
<ellipse class="k" cx="300.80" cy="567.40" rx="2.30" ry="4.80" transform="rotate(14.2 300.80 567.40)"/>
<ellipse cx="301.20" cy="567.60" rx="1.00" ry="2.20" transform="rotate(14.2 301.20 567.60)" style="stroke:#fff;stroke-width:0.6"/>
<path d="M288 555 L302 558.6 L303.4 562.6 M289.6 557.6 L302 560.8" style="stroke-width:0.9"/>
<path d="M303.4 562.6 L305.4 565.4 L306 568.4" style="stroke-width:1.3"/>
<path class="w" d="M321.4 493.2 L322.6 488 L325 479.2 L328.2 476.4 L332.6 476.6 L335.2 479.2 L335.2 488.2 L336.8 499.6 L339.6 511.4 L333.4 501.6 L327.2 497.6 Z"/>
<path d="M325 479.2 L330 480.6 L335.2 479.2 M330 480.6 L329.6 487 L327.2 497.6 M328.2 476.4 L330 480.6 M331.4 481 L332.4 490 L333.4 501.6" style="stroke-width:0.9"/>
<path d="M326.4 477.8 L329 479.6 L333.8 477.6" style="stroke-width:1.2"/>
<path class="w" d="M340.1 478.8L352.8 482.6L352.8 482.6 L353.7 483.1 L354.4 484.2 L354.8 485.7 L354.8 487.5 L354.5 489.4 L353.9 491.2 L353.0 492.8 L351.9 493.9 L350.8 494.6 L349.8 494.6L337.1 490.8L337.1 490.8 L336.2 490.3 L335.5 489.2 L335.1 487.7 L335.1 485.9 L335.4 484.0 L336.0 482.2 L336.9 480.6 L338.0 479.5 L339.1 478.8 L340.1 478.8Z"/>
<ellipse cx="351.30" cy="488.60" rx="3.30" ry="6.20" transform="rotate(14.2 351.30 488.60)"/>
<ellipse cx="351.60" cy="488.70" rx="2.30" ry="4.70" transform="rotate(14.2 351.60 488.70)"/>
<ellipse cx="335.60" cy="490.40" rx="0.90" ry="1.60" transform="rotate(14.2 335.60 490.40)"/>
<line x1="260.0" y1="520.2" x2="277.4" y2="524.7" style="stroke-width:0.8"/>
<line x1="287.8" y1="527.4" x2="328.0" y2="537.8" style="stroke-width:0.8"/>
<line x1="338.5" y1="540.6" x2="355.0" y2="544.8" style="stroke-width:0.8"/>
<line x1="366.0" y1="547.7" x2="385.4" y2="552.7" style="stroke-width:0.8"/>
</g>
<g id="p169">
<line x1="397.5" y1="555.8" x2="433.6" y2="565.2" style="stroke-width:0.8"/>
<ellipse cx="417.20" cy="561.20" rx="6.00" ry="11.60" transform="rotate(14.5 417.20 561.20)" style="stroke-width:2.4"/>
<ellipse cx="418.50" cy="561.60" rx="6.00" ry="11.60" transform="rotate(14.5 418.50 561.60)" style="stroke-width:1.8"/>
<ellipse cx="418.30" cy="561.50" rx="4.00" ry="8.60" transform="rotate(14.5 418.30 561.50)" style="stroke-width:0.9"/>
</g>
<g id="p168">
<line x1="462.0" y1="554.4" x2="507.6" y2="566.4" style="stroke-width:0.8"/>
<line x1="426.0" y1="584.4" x2="471.4" y2="596.8" style="stroke-width:0.8"/>
<path class="w" d="M467.6 552.7L496.6 560.2L496.6 560.2 L497.1 560.6 L497.4 561.4 L497.4 562.5 L497.2 563.7 L496.8 564.8 L496.3 565.8 L495.6 566.3 L495.0 566.4L466.0 558.9L466.0 558.9 L465.5 558.5 L465.2 557.7 L465.2 556.7 L465.4 555.4 L465.8 554.3 L466.4 553.4 L467.0 552.8 L467.6 552.7Z"/>
<ellipse cx="495.84" cy="563.31" rx="1.44" ry="3.20" transform="rotate(14.5 495.84 563.31)"/>
<line x1="465.2" y1="557.5" x2="494.3" y2="565.0" style="stroke-width:0.6"/>
<line x1="466.1" y1="553.7" x2="495.2" y2="561.2" style="stroke-width:0.6"/>
<path class="w" d="M497.5 556.9L502.7 558.3L502.7 558.3 L503.5 558.7 L504.1 559.5 L504.5 560.7 L504.7 562.2 L504.6 563.8 L504.3 565.5 L503.7 567.1 L503.0 568.6 L502.2 569.8 L501.2 570.6 L500.3 571.0 L499.4 571.1L494.2 569.7L494.2 569.7 L493.4 569.3 L492.8 568.4 L492.4 567.2 L492.3 565.8 L492.3 564.2 L492.6 562.5 L493.2 560.9 L493.9 559.4 L494.8 558.2 L495.7 557.4 L496.6 556.9 L497.5 556.9Z"/>
<ellipse cx="501.07" cy="564.66" rx="3.30" ry="6.60" transform="rotate(14.5 501.07 564.66)"/>
<ellipse class="w" cx="501.27" cy="564.66" rx="1.98" ry="4.09" transform="rotate(14.5 501.27 564.66)" style="stroke-width:1.1"/>
<path d="M500.5 562.1L501.9 567.5M499.7 565.3L502.7 564.3" style="stroke-width:0.6"/>
<path class="w" d="M431.6 582.7L460.3 590.1L460.3 590.1 L460.7 590.5 L461.0 591.3 L461.1 592.4 L460.9 593.6 L460.4 594.7 L459.9 595.7 L459.3 596.2 L458.7 596.3L430.0 588.9L430.0 588.9 L429.5 588.5 L429.2 587.7 L429.2 586.7 L429.4 585.4 L429.8 584.3 L430.4 583.4 L431.0 582.8 L431.6 582.7Z"/>
<ellipse cx="459.46" cy="593.21" rx="1.44" ry="3.20" transform="rotate(14.5 459.46 593.21)"/>
<line x1="429.2" y1="587.5" x2="457.9" y2="594.9" style="stroke-width:0.6"/>
<line x1="430.1" y1="583.7" x2="458.8" y2="591.1" style="stroke-width:0.6"/>
<path class="w" d="M461.1 586.8L466.3 588.2L466.3 588.2 L467.1 588.6 L467.7 589.4 L468.1 590.6 L468.3 592.1 L468.2 593.7 L467.9 595.4 L467.3 597.0 L466.6 598.5 L465.8 599.7 L464.9 600.5 L463.9 600.9 L463.0 601.0L457.8 599.6L457.8 599.6 L457.0 599.2 L456.4 598.3 L456.0 597.1 L455.9 595.7 L455.9 594.1 L456.3 592.4 L456.8 590.8 L457.5 589.3 L458.4 588.1 L459.3 587.3 L460.2 586.8 L461.1 586.8Z"/>
<ellipse cx="464.69" cy="594.56" rx="3.30" ry="6.60" transform="rotate(14.5 464.69 594.56)"/>
<ellipse class="w" cx="464.89" cy="594.56" rx="1.98" ry="4.09" transform="rotate(14.5 464.89 594.56)" style="stroke-width:1.1"/>
<path d="M464.1 592.0L465.5 597.4M463.3 595.2L466.3 594.2" style="stroke-width:0.6"/>
</g>
<g id="frame">
<path d="M541.7 656.6V620.6H731.4M743.8 620.6H800" style="stroke-width:1.2;stroke:#333"/>
<path d="M770.1 620.6V656.4" style="stroke-width:1.1;stroke:#333"/>
<text x="779.4" y="648.8" transform="translate(779.4 0) scale(0.8 1) translate(-779.4 0)" style="font-family:'Liberation Sans',sans-serif;font-size:22.5px;fill:#444;stroke:#fff;stroke-width:0.5">5</text>
</g>
<g id="vortex">
<path class="w" d="M550.6 628.4H651V651.4H550.6Z" style="stroke-width:1"/>
<path d="M552.6 629.8H646.6" style="stroke-width:0.6"/>
<clipPath id="cvx"><path d="M642.6 629.4H650.4V650.8H631Z"/></clipPath>
<path d="M642.6 629.4L631 650.8" style="stroke-width:1"/>
<g clip-path="url(#cvx)">
<path d="M646.4 628L632.9 652" style="stroke-width:1.5"/>
<path d="M651.0 628L637.5 652" style="stroke-width:1.5"/>
<path d="M655.6 628L642.1 652" style="stroke-width:1.5"/>
<path d="M660.2 628L646.7 652" style="stroke-width:1.5"/>
<path d="M664.8 628L651.3 652" style="stroke-width:1.5"/>
<path d="M669.4 628L655.9 652" style="stroke-width:1.5"/>
</g>
<text x="552.8" y="645.4" textLength="83" lengthAdjust="spacingAndGlyphs" style="font-family:'Liberation Sans',sans-serif;font-weight:bold;font-style:italic;font-size:19.5px;fill:#fff;stroke:#111;stroke-width:2.4;paint-order:stroke fill">VORTEX</text>
<path d="M556 640.2H630M557.4 642.6H628" style="stroke-width:0.5;stroke:#555"/>
<path class="w" d="M551.6 646.8H631.6L629.6 650.8H551.6Z" style="stroke-width:0.9"/>
<path class="k" d="M574.6 647.4H608.6L607.8 650.4H573.8Z" style="stroke-width:0.4"/>
<path d="M577.2 648.9h1.4" style="stroke:#fff;stroke-width:0.7;stroke-linecap:butt"/>
<path d="M581.7 648.9h1.4" style="stroke:#fff;stroke-width:0.7;stroke-linecap:butt"/>
<path d="M586.2 648.9h1.4" style="stroke:#fff;stroke-width:0.7;stroke-linecap:butt"/>
<path d="M590.7 648.9h1.4" style="stroke:#fff;stroke-width:0.7;stroke-linecap:butt"/>
<path d="M595.2 648.9h1.4" style="stroke:#fff;stroke-width:0.7;stroke-linecap:butt"/>
<path d="M599.7 648.9h1.4" style="stroke:#fff;stroke-width:0.7;stroke-linecap:butt"/>
<path d="M604.2 648.9h1.4" style="stroke:#fff;stroke-width:0.7;stroke-linecap:butt"/>
</g>
<g id="rok">
<path class="w" d="M677 637L688.2 653.8H765.2L757 645.6" style="stroke-width:0.9"/>
<path d="M683.6 646.2H757.6M686.4 650H758.6" style="stroke-width:0.9"/>
<path d="M697 646.2L702.6 653.8M716.6 646.2L722 653.8" style="stroke-width:0.8"/>
<path class="k" d="M695.8 648.2H704.6L706.6 653H698.6Z" style="stroke-width:0.3"/>
<path class="w" d="M677 624.8H693.6C698 624.8 700.4 627 700.2 630C700 633 698.6 634.8 696 636L699.4 645.8H691.4L688.4 637.4H684.6V645.8L677 637Z" style="stroke-width:1.15"/>
<path class="w" d="M680.8 628.8H692.6L696.4 633.8H684.6Z" style="stroke-width:1"/>
<path class="w" d="M712.4 626.2C718.6 626.2 721.8 629.6 721.4 634.6C721 639.6 717.4 642.6 711.6 642.6C705.8 642.6 702.4 639.4 702.8 634.4C703.2 629.4 706.8 626.2 712.4 626.2ZM711.8 630.6C709.6 630.6 708.4 632 708.2 634C708 636 709.2 637 711.4 637C713.6 637 715 635.8 715.2 633.8C715.4 631.8 714 630.6 711.8 630.6Z" style="stroke-width:1.15;fill-rule:evenodd"/>
<path class="w" d="M732 646.4V621.6C732.4 617 734.4 614.6 735.8 614.6C738 614.8 743.2 620 743.2 624.6V637L742 646.4Z" style="stroke-width:1"/>
<path d="M734.5 646V619.6C735 617.6 735.6 617 736.2 617.2C738 618.4 742 622 742 624.4V636.8" style="stroke-width:0.9"/>
<path class="w" d="M743.2 636.8L765.2 654.4L759.6 652.6L747 641.2Z" style="stroke-width:0.9"/>
<path d="M747 641.2L743.2 645.8" style="stroke-width:0.8"/>
<rect x="681.2" y="638" width="40.4" height="6.6" rx="3.2" ry="3.2" style="fill:#151515;stroke:#111;stroke-width:0.5"/>
<text x="684.4" y="643.6" textLength="34.2" lengthAdjust="spacingAndGlyphs" style="font-family:'Liberation Sans',sans-serif;font-weight:bold;font-size:6px;fill:#fff;stroke:none">SUPER</text>
<path class="k" d="M750 630L760.2 631.2L731.6 651.6L722 651.2Z" style="stroke-width:0.6"/>
<path d="M726 648.6L742.6 649" style="stroke-width:1.5"/>
</g>
</g>
<g class="l">
<line x1="55.0" y1="173.0" x2="85.7" y2="221.5"/>
<path class="f" d="M91.0 230.0L83.9 222.7L87.4 220.4Z"/>
<line x1="117.0" y1="172.5" x2="120.4" y2="227.5"/>
<path class="f" d="M121.0 237.5L118.3 227.6L122.5 227.4Z"/>
<line x1="187.0" y1="172.5" x2="204.0" y2="238.3"/>
<path class="f" d="M206.5 248.0L202.0 238.8L206.0 237.8Z"/>
<line x1="252.0" y1="173.5" x2="238.2" y2="253.1"/>
<path class="f" d="M236.5 263.0L236.1 252.8L240.3 253.5Z"/>
<line x1="313.0" y1="172.5" x2="305.0" y2="238.6"/>
<path class="f" d="M303.8 248.5L302.9 238.3L307.1 238.8Z"/>
<line x1="370.5" y1="172.5" x2="354.7" y2="278.1"/>
<path class="f" d="M353.2 288.0L352.6 277.8L356.8 278.4Z"/>
<line x1="425.0" y1="173.0" x2="386.5" y2="297.1"/>
<path class="f" d="M383.5 306.6L384.5 296.4L388.5 297.7Z"/>
<line x1="482.5" y1="173.0" x2="424.1" y2="301.9"/>
<path class="f" d="M420.0 311.0L422.2 301.0L426.0 302.8Z"/>
<line x1="537.0" y1="173.0" x2="483.0" y2="288.9"/>
<path class="f" d="M478.8 298.0L481.1 288.0L484.9 289.8Z"/>
<line x1="580.5" y1="173.0" x2="518.5" y2="317.3"/>
<path class="f" d="M514.5 326.5L516.5 316.5L520.4 318.1Z"/>
<line x1="617.0" y1="172.5" x2="569.4" y2="305.0"/>
<path class="f" d="M566.0 314.4L567.4 304.3L571.4 305.7Z"/>
<line x1="662.0" y1="172.5" x2="586.3" y2="363.7"/>
<path class="f" d="M582.6 373.0L584.3 362.9L588.2 364.5Z"/>
<line x1="720.0" y1="173.5" x2="662.9" y2="299.7"/>
<path class="f" d="M658.8 308.8L661.0 298.8L664.8 300.6Z"/>
<line x1="70.0" y1="309.5" x2="108.1" y2="303.7"/>
<path class="f" d="M118.0 302.2L108.4 305.8L107.8 301.6Z"/>
<line x1="172.5" y1="411.3" x2="222.5" y2="367.9"/>
<path class="f" d="M230.0 361.3L223.8 369.4L221.1 366.3Z"/>
<line x1="500.0" y1="497.5" x2="549.4" y2="454.6"/>
<path class="f" d="M557.0 448.0L550.8 456.1L548.1 453.0Z"/>
<line x1="37.5" y1="630.0" x2="76.0" y2="509.0"/>
<path class="f" d="M79.0 499.5L78.0 509.7L74.0 508.4Z"/>
<line x1="87.0" y1="630.0" x2="112.3" y2="515.3"/>
<path class="f" d="M114.5 505.5L114.4 515.7L110.3 514.8Z"/>
<line x1="135.8" y1="630.0" x2="173.8" y2="520.8"/>
<path class="f" d="M177.1 511.4L175.8 521.5L171.8 520.2Z"/>
<line x1="313.8" y1="626.0" x2="333.8" y2="580.7"/>
<path class="f" d="M337.8 571.5L335.7 581.5L331.8 579.8Z"/>
<line x1="365.0" y1="627.5" x2="404.9" y2="581.5"/>
<path class="f" d="M411.5 573.9L406.5 582.8L403.4 580.1Z"/>
<line x1="408.0" y1="629.0" x2="429.0" y2="600.6"/>
<path class="f" d="M434.9 592.5L430.7 601.8L427.3 599.3Z"/>
<path d="M145.6 331L144.6 336.7L319.4 382.4L319.8 376.8"/>
<path d="M451.6 411.4L451 417.8L669.4 475L669.8 469"/>
</g>
</svg>
</body></html>
